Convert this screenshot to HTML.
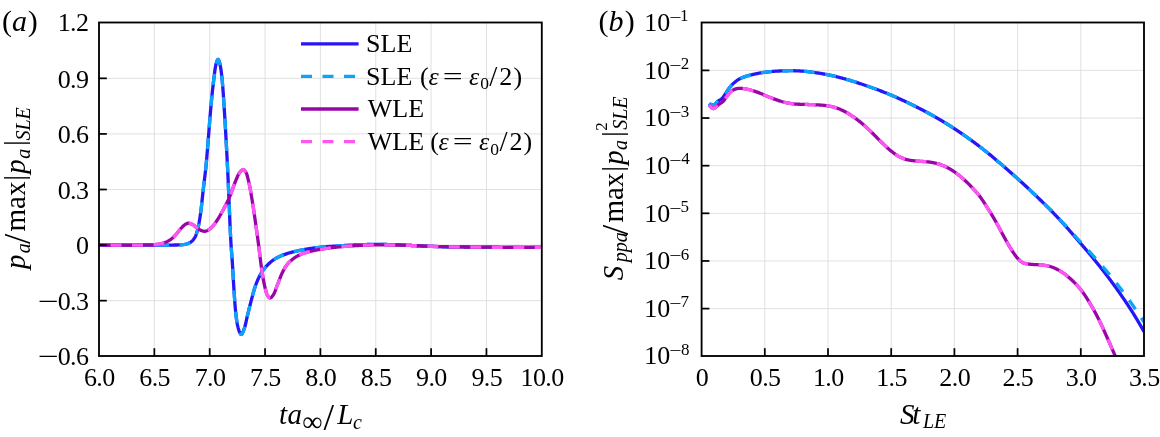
<!DOCTYPE html>
<html lang="en"><head><meta charset="utf-8"><title>Figure</title>
<style>html,body{margin:0;padding:0;background:#fff}svg{display:block;will-change:transform}</style>
</head><body>
<svg width="1160" height="437" viewBox="0 0 1160 437">
<defs><clipPath id="ca"><rect x="99.0" y="22.5" width="442.8" height="333.5"/></clipPath><clipPath id="cb"><rect x="701.6" y="22.5" width="442.4" height="333.5"/></clipPath></defs>
<rect width="1160" height="437" fill="#ffffff"/>
<g stroke="#dddddd" stroke-width="0.9"><line x1="154.35" y1="22.50" x2="154.35" y2="356.00"/><line x1="209.70" y1="22.50" x2="209.70" y2="356.00"/><line x1="265.05" y1="22.50" x2="265.05" y2="356.00"/><line x1="320.40" y1="22.50" x2="320.40" y2="356.00"/><line x1="375.75" y1="22.50" x2="375.75" y2="356.00"/><line x1="431.10" y1="22.50" x2="431.10" y2="356.00"/><line x1="486.45" y1="22.50" x2="486.45" y2="356.00"/><line x1="99.00" y1="300.67" x2="541.80" y2="300.67"/><line x1="99.00" y1="245.08" x2="541.80" y2="245.08"/><line x1="99.00" y1="189.50" x2="541.80" y2="189.50"/><line x1="99.00" y1="133.92" x2="541.80" y2="133.92"/><line x1="99.00" y1="78.33" x2="541.80" y2="78.33"/></g>
<path d="M99.00 245.10L99.75 245.10L100.50 245.10L101.25 245.10L102.00 245.10L102.75 245.10L103.50 245.10L104.25 245.10L105.00 245.10L105.75 245.10L106.50 245.10L107.25 245.10L108.00 245.10L108.75 245.10L109.50 245.10L110.25 245.10L111.00 245.10L111.75 245.10L112.50 245.10L113.25 245.10L114.00 245.10L114.75 245.10L115.50 245.10L116.25 245.10L117.00 245.10L117.75 245.10L118.50 245.10L119.25 245.10L120.00 245.10L120.75 245.10L121.50 245.10L122.25 245.10L123.00 245.10L123.75 245.10L124.50 245.10L125.25 245.10L126.00 245.10L126.75 245.10L127.50 245.10L128.25 245.10L129.00 245.10L129.75 245.10L130.50 245.10L131.25 245.10L132.00 245.10L132.75 245.10L133.50 245.10L134.25 245.10L135.00 245.10L135.75 245.10L136.50 245.10L137.25 245.10L138.00 245.10L138.75 245.10L139.50 245.10L140.25 245.10L141.00 245.10L141.75 245.10L142.50 245.10L143.25 245.10L144.00 245.10L144.75 245.10L145.50 245.10L146.25 245.10L147.00 245.10L147.75 245.10L148.50 245.10L149.25 245.10L150.00 245.10L150.75 245.10L151.50 245.10L152.25 245.10L153.00 245.10L153.75 245.10L154.50 245.10L155.25 245.10L156.00 245.10L156.75 245.10L157.50 245.10L158.25 245.10L159.00 245.10L159.75 245.10L160.50 245.10L161.25 245.10L162.00 245.10L162.75 245.10L163.50 245.10L164.25 245.09L165.00 245.09L165.75 245.09L166.50 245.08L167.25 245.08L168.00 245.07L168.75 245.07L169.50 245.06L170.25 245.06L171.00 245.05L171.75 245.05L172.50 245.04L173.25 245.03L174.00 245.02L174.75 245.02L175.50 245.01L176.25 245.00L177.00 244.98L177.75 244.96L178.51 244.93L179.26 244.89L180.01 244.84L180.77 244.79L181.52 244.74L182.26 244.67L183.00 244.60L183.74 244.53L184.47 244.44L185.22 244.31L185.96 244.13L186.70 243.93L187.43 243.69L188.15 243.43L188.84 243.15L189.50 242.85L190.13 242.51L190.76 242.10L191.37 241.62L191.94 241.10L192.49 240.56L192.99 240.02L193.46 239.45L193.91 238.86L194.35 238.23L194.76 237.58L195.14 236.91L195.48 236.24L195.77 235.57L196.03 234.89L196.28 234.20L196.51 233.51L196.74 232.81L196.95 232.10L197.16 231.39L197.36 230.66L197.56 229.94L197.74 229.21L197.92 228.47L198.09 227.73L198.25 226.99L198.41 226.24L198.57 225.50L198.72 224.75L198.86 224.00L199.00 223.25L199.13 222.50L199.27 221.75L199.40 221.01L199.52 220.27L199.65 219.53L199.77 218.79L199.89 218.05L200.00 217.32L200.11 216.58L200.22 215.84L200.33 215.10L200.44 214.36L200.54 213.62L200.64 212.87L200.74 212.13L200.83 211.39L200.93 210.64L201.02 209.90L201.11 209.16L201.20 208.41L201.29 207.67L201.37 206.92L201.46 206.17L201.54 205.43L201.63 204.68L201.71 203.94L201.79 203.19L201.87 202.44L201.95 201.69L202.03 200.95L202.11 200.20L202.18 199.45L202.26 198.70L202.34 197.96L202.42 197.21L202.50 196.46L202.58 195.72L202.66 194.97L202.74 194.22L202.82 193.47L202.90 192.73L202.98 191.98L203.07 191.24L203.15 190.49L203.24 189.74L203.32 189.00L203.41 188.25L203.50 187.51L203.59 186.77L203.68 186.02L203.77 185.28L203.86 184.53L203.95 183.79L204.04 183.04L204.13 182.30L204.22 181.55L204.31 180.81L204.40 180.06L204.49 179.32L204.58 178.57L204.67 177.83L204.76 177.08L204.85 176.34L204.94 175.59L205.02 174.85L205.11 174.10L205.20 173.36L205.28 172.61L205.37 171.87L205.45 171.12L205.53 170.38L205.62 169.63L205.70 168.89L205.78 168.14L205.86 167.40L205.93 166.65L206.01 165.90L206.09 165.16L206.16 164.41L206.23 163.67L206.30 162.92L206.37 162.17L206.44 161.43L206.51 160.68L206.58 159.93L206.64 159.19L206.71 158.44L206.77 157.69L206.84 156.94L206.90 156.20L206.96 155.45L207.02 154.70L207.08 153.95L207.15 153.21L207.21 152.46L207.27 151.71L207.33 150.96L207.38 150.22L207.44 149.47L207.50 148.72L207.56 147.97L207.62 147.23L207.68 146.48L207.74 145.73L207.80 144.98L207.86 144.23L207.92 143.49L207.98 142.74L208.04 141.99L208.10 141.24L208.16 140.50L208.22 139.75L208.28 139.00L208.34 138.25L208.40 137.51L208.46 136.76L208.52 136.01L208.58 135.26L208.64 134.52L208.70 133.77L208.76 133.02L208.82 132.27L208.88 131.52L208.93 130.78L208.99 130.03L209.05 129.28L209.11 128.53L209.17 127.79L209.23 127.04L209.28 126.29L209.34 125.54L209.40 124.79L209.46 124.05L209.52 123.30L209.58 122.55L209.64 121.80L209.69 121.06L209.75 120.31L209.81 119.56L209.87 118.81L209.93 118.06L210.00 117.32L210.06 116.57L210.12 115.82L210.18 115.08L210.24 114.33L210.31 113.58L210.37 112.83L210.44 112.09L210.50 111.34L210.57 110.59L210.63 109.85L210.70 109.10L210.77 108.35L210.84 107.60L210.91 106.86L210.97 106.11L211.04 105.36L211.11 104.62L211.18 103.87L211.25 103.12L211.32 102.38L211.39 101.63L211.46 100.88L211.54 100.14L211.61 99.39L211.68 98.64L211.75 97.90L211.83 97.15L211.90 96.40L211.98 95.66L212.05 94.91L212.13 94.16L212.20 93.42L212.28 92.67L212.36 91.92L212.43 91.18L212.51 90.43L212.59 89.69L212.67 88.94L212.76 88.19L212.84 87.45L212.92 86.70L213.01 85.96L213.09 85.21L213.18 84.47L213.26 83.72L213.35 82.98L213.44 82.23L213.53 81.49L213.62 80.75L213.71 80.00L213.80 79.26L213.90 78.52L213.99 77.77L214.08 77.02L214.17 76.27L214.26 75.52L214.35 74.77L214.44 74.02L214.53 73.27L214.63 72.52L214.72 71.76L214.82 71.01L214.92 70.27L215.03 69.52L215.15 68.78L215.27 68.03L215.39 67.30L215.53 66.56L215.67 65.84L215.82 65.11L215.98 64.39L216.15 63.68L216.36 62.92L216.62 62.03L216.93 61.13L217.27 60.32L217.61 59.71L217.93 59.41L218.24 59.53L218.58 60.01L218.92 60.75L219.25 61.62L219.54 62.53L219.76 63.36L219.94 64.07L220.10 64.79L220.25 65.51L220.40 66.24L220.54 66.97L220.66 67.71L220.79 68.44L220.90 69.19L221.01 69.93L221.12 70.68L221.22 71.43L221.31 72.18L221.40 72.94L221.49 73.69L221.58 74.44L221.66 75.20L221.74 75.95L221.82 76.70L221.89 77.45L221.97 78.20L222.04 78.94L222.12 79.69L222.19 80.43L222.26 81.18L222.33 81.92L222.40 82.67L222.47 83.41L222.53 84.16L222.60 84.91L222.66 85.65L222.72 86.40L222.78 87.15L222.84 87.90L222.90 88.64L222.95 89.39L223.01 90.14L223.07 90.89L223.12 91.64L223.17 92.39L223.23 93.13L223.28 93.88L223.33 94.63L223.38 95.38L223.43 96.13L223.48 96.88L223.53 97.63L223.58 98.38L223.63 99.13L223.67 99.87L223.72 100.62L223.77 101.37L223.82 102.12L223.87 102.87L223.92 103.62L223.96 104.37L224.01 105.12L224.06 105.87L224.11 106.61L224.16 107.36L224.21 108.11L224.26 108.86L224.31 109.61L224.35 110.36L224.40 111.10L224.45 111.85L224.50 112.60L224.55 113.35L224.59 114.10L224.64 114.85L224.69 115.60L224.73 116.34L224.78 117.09L224.82 117.84L224.87 118.59L224.92 119.34L224.96 120.09L225.01 120.84L225.05 121.58L225.09 122.33L225.14 123.08L225.18 123.83L225.23 124.58L225.27 125.33L225.31 126.08L225.36 126.83L225.40 127.57L225.44 128.32L225.49 129.07L225.53 129.82L225.57 130.57L225.61 131.32L225.66 132.07L225.70 132.82L225.74 133.56L225.78 134.31L225.83 135.06L225.87 135.81L225.91 136.56L225.95 137.31L225.99 138.06L226.03 138.81L226.08 139.56L226.12 140.30L226.16 141.05L226.20 141.80L226.24 142.55L226.28 143.30L226.32 144.05L226.36 144.80L226.40 145.55L226.44 146.30L226.49 147.04L226.53 147.79L226.57 148.54L226.61 149.29L226.65 150.04L226.69 150.79L226.73 151.54L226.76 152.29L226.80 153.04L226.84 153.78L226.88 154.53L226.92 155.28L226.96 156.03L227.00 156.78L227.04 157.53L227.08 158.28L227.11 159.03L227.15 159.78L227.19 160.53L227.23 161.28L227.27 162.02L227.30 162.77L227.34 163.52L227.38 164.27L227.42 165.02L227.45 165.77L227.49 166.52L227.53 167.27L227.56 168.02L227.60 168.77L227.63 169.52L227.67 170.26L227.71 171.01L227.74 171.76L227.78 172.51L227.81 173.26L227.85 174.01L227.88 174.76L227.92 175.51L227.95 176.26L227.98 177.01L228.02 177.76L228.05 178.51L228.09 179.25L228.12 180.00L228.15 180.75L228.19 181.50L228.22 182.25L228.26 183.00L228.29 183.75L228.32 184.50L228.35 185.25L228.39 186.00L228.42 186.75L228.45 187.50L228.49 188.25L228.52 188.99L228.55 189.74L228.58 190.49L228.62 191.24L228.65 191.99L228.68 192.74L228.72 193.49L228.75 194.24L228.78 194.99L228.81 195.74L228.85 196.49L228.88 197.24L228.91 197.99L228.94 198.74L228.98 199.49L229.01 200.23L229.04 200.98L229.08 201.73L229.11 202.48L229.14 203.23L229.17 203.98L229.20 204.73L229.23 205.48L229.26 206.23L229.29 206.98L229.33 207.73L229.36 208.48L229.39 209.23L229.42 209.98L229.45 210.73L229.48 211.47L229.51 212.22L229.54 212.97L229.57 213.72L229.60 214.47L229.63 215.22L229.66 215.97L229.69 216.72L229.72 217.47L229.75 218.22L229.78 218.97L229.81 219.72L229.84 220.47L229.87 221.22L229.90 221.97L229.94 222.72L229.97 223.47L230.00 224.21L230.03 224.96L230.06 225.71L230.10 226.46L230.13 227.21L230.16 227.96L230.20 228.71L230.23 229.46L230.27 230.21L230.30 230.96L230.34 231.71L230.37 232.46L230.41 233.20L230.45 233.95L230.48 234.70L230.52 235.45L230.56 236.20L230.60 236.95L230.64 237.70L230.68 238.45L230.73 239.20L230.77 239.95L230.81 240.69L230.86 241.44L230.90 242.19L230.94 242.94L230.99 243.69L231.04 244.44L231.08 245.19L231.13 245.93L231.18 246.68L231.23 247.43L231.28 248.18L231.33 248.93L231.38 249.68L231.44 250.42L231.49 251.17L231.55 251.92L231.61 252.67L231.66 253.42L231.72 254.16L231.78 254.91L231.84 255.66L231.89 256.41L231.95 257.15L232.01 257.90L232.06 258.65L232.12 259.40L232.17 260.15L232.22 260.89L232.28 261.64L232.33 262.39L232.38 263.14L232.42 263.89L232.47 264.64L232.52 265.38L232.56 266.13L232.61 266.88L232.66 267.63L232.70 268.38L232.74 269.13L232.79 269.88L232.83 270.63L232.88 271.37L232.92 272.12L232.96 272.87L233.00 273.62L233.05 274.37L233.09 275.12L233.13 275.87L233.17 276.62L233.22 277.36L233.26 278.11L233.30 278.86L233.34 279.61L233.39 280.36L233.43 281.11L233.47 281.86L233.52 282.61L233.56 283.35L233.61 284.10L233.65 284.85L233.70 285.60L233.75 286.35L233.79 287.10L233.84 287.85L233.89 288.59L233.94 289.34L233.99 290.09L234.04 290.84L234.09 291.59L234.14 292.34L234.19 293.08L234.24 293.83L234.29 294.58L234.34 295.33L234.39 296.08L234.44 296.83L234.49 297.58L234.55 298.33L234.60 299.08L234.65 299.83L234.70 300.58L234.75 301.32L234.81 302.07L234.86 302.82L234.92 303.57L234.98 304.32L235.04 305.07L235.10 305.81L235.16 306.56L235.22 307.31L235.28 308.06L235.35 308.80L235.42 309.55L235.49 310.30L235.56 311.04L235.63 311.79L235.71 312.53L235.79 313.27L235.87 314.02L235.95 314.76L236.04 315.51L236.13 316.26L236.22 317.01L236.31 317.76L236.41 318.51L236.51 319.26L236.62 320.01L236.73 320.76L236.85 321.51L236.98 322.26L237.11 323.00L237.24 323.74L237.39 324.48L237.54 325.21L237.69 325.94L237.86 326.66L238.03 327.37L238.22 328.08L238.41 328.81L238.66 329.63L238.95 330.51L239.27 331.41L239.61 332.28L239.97 333.07L240.33 333.73L240.70 334.21L241.05 334.47L241.38 334.46L241.74 334.19L242.10 333.70L242.47 333.04L242.84 332.26L243.20 331.40L243.55 330.51L243.87 329.63L244.15 328.82L244.40 328.11L244.63 327.40L244.85 326.70L245.05 325.98L245.24 325.26L245.43 324.53L245.60 323.80L245.77 323.07L245.94 322.33L246.10 321.60L246.26 320.86L246.42 320.12L246.58 319.38L246.74 318.64L246.91 317.91L247.08 317.17L247.26 316.45L247.44 315.72L247.62 314.99L247.80 314.26L247.98 313.53L248.15 312.80L248.33 312.07L248.51 311.34L248.69 310.62L248.86 309.89L249.04 309.16L249.22 308.43L249.40 307.70L249.58 306.97L249.76 306.25L249.94 305.52L250.13 304.79L250.31 304.06L250.50 303.34L250.69 302.61L250.88 301.89L251.07 301.16L251.26 300.44L251.45 299.71L251.64 298.98L251.83 298.25L252.02 297.53L252.21 296.80L252.41 296.07L252.60 295.34L252.79 294.62L252.99 293.89L253.19 293.17L253.39 292.44L253.60 291.72L253.81 291.00L254.02 290.28L254.24 289.56L254.46 288.85L254.68 288.13L254.91 287.42L255.15 286.72L255.39 286.01L255.63 285.31L255.89 284.60L256.15 283.90L256.41 283.20L256.69 282.50L256.97 281.80L257.26 281.10L257.56 280.40L257.86 279.71L258.17 279.02L258.49 278.34L258.81 277.66L259.14 276.99L259.48 276.32L259.82 275.66L260.18 275.00L260.54 274.36L260.91 273.71L261.29 273.07L261.69 272.43L262.10 271.80L262.52 271.16L262.95 270.54L263.39 269.92L263.84 269.31L264.30 268.71L264.76 268.12L265.24 267.54L265.72 266.97L266.21 266.41L266.70 265.87L267.21 265.33L267.73 264.79L268.26 264.25L268.81 263.72L269.36 263.20L269.93 262.68L270.50 262.17L271.08 261.68L271.67 261.20L272.27 260.74L272.87 260.29L273.48 259.86L274.09 259.44L274.71 259.05L275.34 258.68L275.98 258.31L276.62 257.96L277.28 257.61L277.95 257.27L278.62 256.94L279.31 256.61L280.00 256.30L280.69 255.99L281.39 255.69L282.10 255.40L282.80 255.12L283.51 254.85L284.22 254.58L284.94 254.33L285.65 254.08L286.35 253.85L287.06 253.62L287.77 253.39L288.48 253.18L289.20 252.96L289.92 252.76L290.64 252.55L291.36 252.36L292.09 252.16L292.82 251.97L293.55 251.79L294.28 251.61L295.01 251.44L295.75 251.27L296.48 251.10L297.22 250.94L297.95 250.78L298.69 250.62L299.42 250.47L300.16 250.32L300.89 250.18L301.63 250.04L302.36 249.90L303.10 249.76L303.84 249.62L304.58 249.49L305.31 249.36L306.05 249.23L306.79 249.10L307.53 248.98L308.27 248.85L309.02 248.73L309.76 248.62L310.50 248.50L311.24 248.39L311.99 248.28L312.73 248.17L313.47 248.07L314.22 247.97L314.96 247.88L315.70 247.78L316.45 247.69L317.19 247.60L317.94 247.52L318.68 247.44L319.43 247.36L320.17 247.28L320.92 247.20L321.66 247.13L322.41 247.06L323.16 246.99L323.90 246.92L324.65 246.86L325.40 246.79L326.15 246.73L326.90 246.67L327.64 246.61L328.39 246.55L329.14 246.50L329.89 246.44L330.64 246.39L331.39 246.34L332.13 246.29L332.88 246.23L333.63 246.18L334.38 246.13L335.13 246.09L335.88 246.04L336.62 245.99L337.37 245.94L338.12 245.89L338.87 245.84L339.62 245.80L340.37 245.75L341.11 245.70L341.86 245.66L342.61 245.61L343.36 245.57L344.11 245.53L344.86 245.48L345.61 245.44L346.36 245.40L347.10 245.36L347.85 245.31L348.60 245.27L349.35 245.23L350.10 245.19L350.85 245.16L351.60 245.12L352.35 245.08L353.10 245.04L353.85 245.01L354.60 244.97L355.35 244.94L356.10 244.91L356.85 244.87L357.59 244.84L358.34 244.81L359.09 244.78L359.84 244.75L360.59 244.72L361.34 244.70L362.09 244.67L362.84 244.65L363.59 244.62L364.34 244.60L365.09 244.58L365.84 244.56L366.59 244.54L367.34 244.52L368.09 244.50L368.84 244.49L369.59 244.47L370.34 244.46L371.09 244.45L371.84 244.44L372.59 244.43L373.34 244.42L374.09 244.41L374.84 244.41L375.59 244.40L376.34 244.40L377.09 244.40L377.84 244.40L378.59 244.40L379.34 244.40L380.09 244.41L380.84 244.42L381.59 244.42L382.34 244.43L383.09 244.44L383.84 244.45L384.59 244.46L385.34 244.48L386.09 244.49L386.84 244.51L387.59 244.53L388.34 244.54L389.09 244.56L389.84 244.58L390.59 244.60L391.34 244.63L392.09 244.65L392.83 244.67L393.58 244.70L394.33 244.72L395.08 244.75L395.83 244.78L396.58 244.81L397.33 244.84L398.08 244.87L398.83 244.90L399.58 244.93L400.33 244.96L401.08 244.99L401.83 245.03L402.58 245.06L403.33 245.10L404.08 245.13L404.83 245.17L405.58 245.20L406.33 245.24L407.08 245.28L407.83 245.32L408.58 245.35L409.32 245.39L410.07 245.43L410.82 245.47L411.57 245.51L412.32 245.55L413.07 245.58L413.82 245.62L414.57 245.66L415.32 245.70L416.07 245.74L416.81 245.78L417.56 245.82L418.31 245.85L419.06 245.89L419.81 245.93L420.56 245.97L421.31 246.00L422.06 246.04L422.81 246.07L423.56 246.11L424.30 246.14L425.05 246.18L425.80 246.21L426.55 246.24L427.30 246.27L428.05 246.30L428.80 246.34L429.55 246.36L430.30 246.39L431.05 246.42L431.80 246.45L432.55 246.47L433.30 246.50L434.05 246.52L434.80 246.54L435.55 246.56L436.30 246.59L437.05 246.61L437.80 246.63L438.55 246.64L439.29 246.66L440.04 246.68L440.79 246.70L441.54 246.71L442.29 246.73L443.04 246.74L443.79 246.75L444.54 246.77L445.29 246.78L446.04 246.79L446.79 246.80L447.54 246.82L448.29 246.83L449.04 246.84L449.79 246.85L450.54 246.86L451.29 246.87L452.04 246.87L452.79 246.88L453.54 246.89L454.29 246.90L455.04 246.91L455.79 246.91L456.54 246.92L457.29 246.93L458.04 246.93L458.79 246.94L459.54 246.94L460.29 246.95L461.04 246.96L461.79 246.96L462.54 246.97L463.29 246.97L464.04 246.98L464.79 246.99L465.54 246.99L466.29 247.00L467.04 247.00L467.79 247.01L468.54 247.01L469.29 247.02L470.04 247.03L470.79 247.03L471.54 247.04L472.29 247.05L473.04 247.05L473.79 247.06L474.54 247.06L475.29 247.07L476.04 247.08L476.79 247.08L477.54 247.09L478.29 247.10L479.04 247.10L479.79 247.11L480.54 247.12L481.29 247.12L482.04 247.13L482.79 247.14L483.54 247.14L484.29 247.15L485.04 247.16L485.79 247.16L486.54 247.17L487.29 247.18L488.04 247.18L488.79 247.19L489.54 247.20L490.29 247.20L491.04 247.21L491.79 247.22L492.54 247.22L493.29 247.23L494.04 247.23L494.79 247.24L495.54 247.25L496.29 247.25L497.04 247.26L497.79 247.26L498.54 247.27L499.29 247.27L500.04 247.28L500.79 247.29L501.54 247.29L502.29 247.30L503.04 247.30L503.79 247.31L504.54 247.31L505.29 247.32L506.04 247.32L506.79 247.32L507.54 247.33L508.29 247.33L509.04 247.34L509.79 247.34L510.54 247.34L511.29 247.35L512.04 247.35L512.79 247.35L513.54 247.36L514.29 247.36L515.04 247.36L515.79 247.36L516.54 247.37L517.29 247.37L518.04 247.37L518.79 247.37L519.54 247.37L520.29 247.37L521.04 247.38L521.79 247.38L522.54 247.38L523.29 247.38L524.04 247.38L524.79 247.38L525.54 247.38L526.29 247.38L527.04 247.37L527.79 247.37L528.54 247.37L529.29 247.37L530.04 247.37L530.79 247.37L531.54 247.36L532.29 247.36L533.04 247.36L533.79 247.35L534.54 247.35L535.29 247.35L536.04 247.34L536.79 247.34L537.54 247.33L538.29 247.33L539.04 247.32L539.79 247.32L540.54 247.31L541.29 247.30L541.80 247.30" fill="none" stroke="#2616f8" stroke-width="3.30" stroke-linejoin="round" clip-path="url(#ca)"/>
<path d="M99.00 245.10L99.75 245.10L100.50 245.10L101.25 245.10L102.00 245.10L102.75 245.10L103.50 245.10L104.25 245.10L105.00 245.10L105.75 245.10L106.50 245.10L107.25 245.10L108.00 245.10L108.75 245.10L109.50 245.10L110.25 245.10L111.00 245.10L111.75 245.10L112.50 245.10L113.25 245.10L114.00 245.10L114.75 245.10L115.50 245.10L116.25 245.10L117.00 245.10L117.75 245.10L118.50 245.10L119.25 245.10L120.00 245.10L120.75 245.10L121.50 245.10L122.25 245.10L123.00 245.10L123.75 245.10L124.50 245.10L125.25 245.10L126.00 245.10L126.75 245.10L127.50 245.10L128.25 245.10L129.00 245.10L129.75 245.10L130.50 245.10L131.25 245.10L132.00 245.10L132.75 245.10L133.50 245.10L134.25 245.10L135.00 245.10L135.75 245.10L136.50 245.10L137.25 245.10L138.00 245.10L138.75 245.10L139.50 245.10L140.25 245.10L141.00 245.10L141.75 245.10L142.50 245.10L143.25 245.10L144.00 245.10L144.75 245.10L145.50 245.10L146.25 245.10L147.00 245.10L147.75 245.10L148.50 245.10L149.25 245.10L150.00 245.10L150.75 245.10L151.50 245.10L152.25 245.10L153.00 245.10L153.75 245.10L154.50 245.10L155.25 245.10L156.00 245.10L156.75 245.10L157.50 245.10L158.25 245.10L159.00 245.10L159.75 245.10L160.50 245.10L161.25 245.10L162.00 245.10L162.75 245.10L163.50 245.10L164.25 245.09L165.00 245.09L165.75 245.09L166.50 245.08L167.25 245.08L168.00 245.07L168.75 245.07L169.50 245.06L170.25 245.06L171.00 245.05L171.75 245.05L172.50 245.04L173.25 245.03L174.00 245.02L174.75 245.02L175.50 245.01L176.25 245.00L177.00 244.98L177.75 244.96L178.51 244.93L179.26 244.89L180.01 244.84L180.77 244.79L181.52 244.74L182.26 244.67L183.00 244.60L183.74 244.53L184.47 244.44L185.22 244.31L185.96 244.13L186.70 243.93L187.43 243.69L188.15 243.43L188.84 243.15L189.50 242.85L190.13 242.51L190.76 242.10L191.37 241.62L191.94 241.10L192.49 240.56L192.99 240.02L193.46 239.45L193.91 238.86L194.35 238.23L194.76 237.58L195.14 236.91L195.48 236.24L195.77 235.57L196.03 234.89L196.28 234.20L196.51 233.51L196.74 232.81L196.95 232.10L197.16 231.39L197.36 230.66L197.56 229.94L197.74 229.21L197.92 228.47L198.09 227.73L198.25 226.99L198.41 226.24L198.57 225.50L198.72 224.75L198.86 224.00L199.00 223.25L199.13 222.50L199.27 221.75L199.40 221.01L199.52 220.27L199.65 219.53L199.77 218.79L199.89 218.05L200.00 217.32L200.11 216.58L200.22 215.84L200.33 215.10L200.44 214.36L200.54 213.62L200.64 212.87L200.74 212.13L200.83 211.39L200.93 210.64L201.02 209.90L201.11 209.16L201.20 208.41L201.29 207.67L201.37 206.92L201.46 206.17L201.54 205.43L201.63 204.68L201.71 203.94L201.79 203.19L201.87 202.44L201.95 201.69L202.03 200.95L202.11 200.20L202.18 199.45L202.26 198.70L202.34 197.96L202.42 197.21L202.50 196.46L202.58 195.72L202.66 194.97L202.74 194.22L202.82 193.47L202.90 192.73L202.98 191.98L203.07 191.24L203.15 190.49L203.24 189.74L203.32 189.00L203.41 188.25L203.50 187.51L203.59 186.77L203.68 186.02L203.77 185.28L203.86 184.53L203.95 183.79L204.04 183.04L204.13 182.30L204.22 181.55L204.31 180.81L204.40 180.06L204.49 179.32L204.58 178.57L204.67 177.83L204.76 177.08L204.85 176.34L204.94 175.59L205.02 174.85L205.11 174.10L205.20 173.36L205.28 172.61L205.37 171.87L205.45 171.12L205.53 170.38L205.62 169.63L205.70 168.89L205.78 168.14L205.86 167.40L205.93 166.65L206.01 165.90L206.09 165.16L206.16 164.41L206.23 163.67L206.30 162.92L206.37 162.17L206.44 161.43L206.51 160.68L206.58 159.93L206.64 159.19L206.71 158.44L206.77 157.69L206.84 156.94L206.90 156.20L206.96 155.45L207.02 154.70L207.08 153.95L207.15 153.21L207.21 152.46L207.27 151.71L207.33 150.96L207.38 150.22L207.44 149.47L207.50 148.72L207.56 147.97L207.62 147.23L207.68 146.48L207.74 145.73L207.80 144.98L207.86 144.23L207.92 143.49L207.98 142.74L208.04 141.99L208.10 141.24L208.16 140.50L208.22 139.75L208.28 139.00L208.34 138.25L208.40 137.51L208.46 136.76L208.52 136.01L208.58 135.26L208.64 134.52L208.70 133.77L208.76 133.02L208.82 132.27L208.88 131.52L208.93 130.78L208.99 130.03L209.05 129.28L209.11 128.53L209.17 127.79L209.23 127.04L209.28 126.29L209.34 125.54L209.40 124.79L209.46 124.05L209.52 123.30L209.58 122.55L209.64 121.80L209.69 121.06L209.75 120.31L209.81 119.56L209.87 118.81L209.93 118.06L210.00 117.32L210.06 116.57L210.12 115.82L210.18 115.08L210.24 114.33L210.31 113.58L210.37 112.83L210.44 112.09L210.50 111.34L210.57 110.59L210.63 109.85L210.70 109.10L210.77 108.35L210.84 107.60L210.91 106.86L210.97 106.11L211.04 105.36L211.11 104.62L211.18 103.87L211.25 103.12L211.32 102.38L211.39 101.63L211.46 100.88L211.54 100.14L211.61 99.39L211.68 98.64L211.75 97.90L211.83 97.15L211.90 96.40L211.98 95.66L212.05 94.91L212.13 94.16L212.20 93.42L212.28 92.67L212.36 91.92L212.43 91.18L212.51 90.43L212.59 89.69L212.67 88.94L212.76 88.19L212.84 87.45L212.92 86.70L213.01 85.96L213.09 85.21L213.18 84.47L213.26 83.72L213.35 82.98L213.44 82.23L213.53 81.49L213.62 80.75L213.71 80.00L213.80 79.26L213.90 78.52L213.99 77.77L214.08 77.02L214.17 76.27L214.26 75.52L214.35 74.77L214.44 74.02L214.53 73.27L214.63 72.52L214.72 71.76L214.82 71.01L214.92 70.27L215.03 69.52L215.15 68.78L215.27 68.03L215.39 67.30L215.53 66.56L215.67 65.84L215.82 65.11L215.98 64.39L216.15 63.68L216.36 62.92L216.62 62.03L216.93 61.13L217.27 60.32L217.61 59.71L217.93 59.41L218.24 59.53L218.58 60.01L218.92 60.75L219.25 61.62L219.54 62.53L219.76 63.36L219.94 64.07L220.10 64.79L220.25 65.51L220.40 66.24L220.54 66.97L220.66 67.71L220.79 68.44L220.90 69.19L221.01 69.93L221.12 70.68L221.22 71.43L221.31 72.18L221.40 72.94L221.49 73.69L221.58 74.44L221.66 75.20L221.74 75.95L221.82 76.70L221.89 77.45L221.97 78.20L222.04 78.94L222.12 79.69L222.19 80.43L222.26 81.18L222.33 81.92L222.40 82.67L222.47 83.41L222.53 84.16L222.60 84.91L222.66 85.65L222.72 86.40L222.78 87.15L222.84 87.90L222.90 88.64L222.95 89.39L223.01 90.14L223.07 90.89L223.12 91.64L223.17 92.39L223.23 93.13L223.28 93.88L223.33 94.63L223.38 95.38L223.43 96.13L223.48 96.88L223.53 97.63L223.58 98.38L223.63 99.13L223.67 99.87L223.72 100.62L223.77 101.37L223.82 102.12L223.87 102.87L223.92 103.62L223.96 104.37L224.01 105.12L224.06 105.87L224.11 106.61L224.16 107.36L224.21 108.11L224.26 108.86L224.31 109.61L224.35 110.36L224.40 111.10L224.45 111.85L224.50 112.60L224.55 113.35L224.59 114.10L224.64 114.85L224.69 115.60L224.73 116.34L224.78 117.09L224.82 117.84L224.87 118.59L224.92 119.34L224.96 120.09L225.01 120.84L225.05 121.58L225.09 122.33L225.14 123.08L225.18 123.83L225.23 124.58L225.27 125.33L225.31 126.08L225.36 126.83L225.40 127.57L225.44 128.32L225.49 129.07L225.53 129.82L225.57 130.57L225.61 131.32L225.66 132.07L225.70 132.82L225.74 133.56L225.78 134.31L225.83 135.06L225.87 135.81L225.91 136.56L225.95 137.31L225.99 138.06L226.03 138.81L226.08 139.56L226.12 140.30L226.16 141.05L226.20 141.80L226.24 142.55L226.28 143.30L226.32 144.05L226.36 144.80L226.40 145.55L226.44 146.30L226.49 147.04L226.53 147.79L226.57 148.54L226.61 149.29L226.65 150.04L226.69 150.79L226.73 151.54L226.76 152.29L226.80 153.04L226.84 153.78L226.88 154.53L226.92 155.28L226.96 156.03L227.00 156.78L227.04 157.53L227.08 158.28L227.11 159.03L227.15 159.78L227.19 160.53L227.23 161.28L227.27 162.02L227.30 162.77L227.34 163.52L227.38 164.27L227.42 165.02L227.45 165.77L227.49 166.52L227.53 167.27L227.56 168.02L227.60 168.77L227.63 169.52L227.67 170.26L227.71 171.01L227.74 171.76L227.78 172.51L227.81 173.26L227.85 174.01L227.88 174.76L227.92 175.51L227.95 176.26L227.98 177.01L228.02 177.76L228.05 178.51L228.09 179.25L228.12 180.00L228.15 180.75L228.19 181.50L228.22 182.25L228.26 183.00L228.29 183.75L228.32 184.50L228.35 185.25L228.39 186.00L228.42 186.75L228.45 187.50L228.49 188.25L228.52 188.99L228.55 189.74L228.58 190.49L228.62 191.24L228.65 191.99L228.68 192.74L228.72 193.49L228.75 194.24L228.78 194.99L228.81 195.74L228.85 196.49L228.88 197.24L228.91 197.99L228.94 198.74L228.98 199.49L229.01 200.23L229.04 200.98L229.08 201.73L229.11 202.48L229.14 203.23L229.17 203.98L229.20 204.73L229.23 205.48L229.26 206.23L229.29 206.98L229.33 207.73L229.36 208.48L229.39 209.23L229.42 209.98L229.45 210.73L229.48 211.47L229.51 212.22L229.54 212.97L229.57 213.72L229.60 214.47L229.63 215.22L229.66 215.97L229.69 216.72L229.72 217.47L229.75 218.22L229.78 218.97L229.81 219.72L229.84 220.47L229.87 221.22L229.90 221.97L229.94 222.72L229.97 223.47L230.00 224.21L230.03 224.96L230.06 225.71L230.10 226.46L230.13 227.21L230.16 227.96L230.20 228.71L230.23 229.46L230.27 230.21L230.30 230.96L230.34 231.71L230.37 232.46L230.41 233.20L230.45 233.95L230.48 234.70L230.52 235.45L230.56 236.20L230.60 236.95L230.64 237.70L230.68 238.45L230.73 239.20L230.77 239.95L230.81 240.69L230.86 241.44L230.90 242.19L230.94 242.94L230.99 243.69L231.04 244.44L231.08 245.19L231.13 245.93L231.18 246.68L231.23 247.43L231.28 248.18L231.33 248.93L231.38 249.68L231.44 250.42L231.49 251.17L231.55 251.92L231.61 252.67L231.66 253.42L231.72 254.16L231.78 254.91L231.84 255.66L231.89 256.41L231.95 257.15L232.01 257.90L232.06 258.65L232.12 259.40L232.17 260.15L232.22 260.89L232.28 261.64L232.33 262.39L232.38 263.14L232.42 263.89L232.47 264.64L232.52 265.38L232.56 266.13L232.61 266.88L232.66 267.63L232.70 268.38L232.74 269.13L232.79 269.88L232.83 270.63L232.88 271.37L232.92 272.12L232.96 272.87L233.00 273.62L233.05 274.37L233.09 275.12L233.13 275.87L233.17 276.62L233.22 277.36L233.26 278.11L233.30 278.86L233.34 279.61L233.39 280.36L233.43 281.11L233.47 281.86L233.52 282.61L233.56 283.35L233.61 284.10L233.65 284.85L233.70 285.60L233.75 286.35L233.79 287.10L233.84 287.85L233.89 288.59L233.94 289.34L233.99 290.09L234.04 290.84L234.09 291.59L234.14 292.34L234.19 293.08L234.24 293.83L234.29 294.58L234.34 295.33L234.39 296.08L234.44 296.83L234.49 297.58L234.55 298.33L234.60 299.08L234.65 299.83L234.70 300.58L234.75 301.32L234.81 302.07L234.86 302.82L234.92 303.57L234.98 304.32L235.04 305.07L235.10 305.81L235.16 306.56L235.22 307.31L235.28 308.06L235.35 308.80L235.42 309.55L235.49 310.30L235.56 311.04L235.63 311.79L235.71 312.53L235.79 313.27L235.87 314.02L235.95 314.76L236.04 315.51L236.13 316.26L236.22 317.01L236.31 317.76L236.41 318.51L236.51 319.26L236.62 320.01L236.73 320.76L236.85 321.51L236.98 322.26L237.11 323.00L237.24 323.74L237.39 324.48L237.54 325.21L237.69 325.94L237.86 326.66L238.03 327.37L238.22 328.08L238.41 328.81L238.66 329.63L238.95 330.51L239.27 331.41L239.61 332.28L239.97 333.07L240.33 333.73L240.70 334.21L241.05 334.47L241.38 334.46L241.74 334.19L242.10 333.70L242.47 333.04L242.84 332.26L243.20 331.40L243.55 330.51L243.87 329.63L244.15 328.82L244.40 328.11L244.63 327.40L244.85 326.70L245.05 325.98L245.24 325.26L245.43 324.53L245.60 323.80L245.77 323.07L245.94 322.33L246.10 321.60L246.26 320.86L246.42 320.12L246.58 319.38L246.74 318.64L246.91 317.91L247.08 317.17L247.26 316.45L247.44 315.72L247.62 314.99L247.80 314.26L247.98 313.53L248.15 312.80L248.33 312.07L248.51 311.34L248.69 310.62L248.86 309.89L249.04 309.16L249.22 308.43L249.40 307.70L249.58 306.97L249.76 306.25L249.94 305.52L250.13 304.79L250.31 304.06L250.50 303.34L250.69 302.61L250.88 301.89L251.07 301.16L251.26 300.44L251.45 299.71L251.64 298.98L251.83 298.25L252.02 297.53L252.21 296.80L252.41 296.07L252.60 295.34L252.79 294.62L252.99 293.89L253.19 293.17L253.39 292.44L253.60 291.72L253.81 291.00L254.02 290.28L254.24 289.56L254.46 288.85L254.68 288.13L254.91 287.42L255.15 286.72L255.39 286.01L255.63 285.31L255.89 284.60L256.15 283.90L256.41 283.20L256.69 282.50L256.97 281.80L257.26 281.10L257.56 280.40L257.86 279.71L258.17 279.02L258.49 278.34L258.81 277.66L259.14 276.99L259.48 276.32L259.82 275.66L260.18 275.00L260.54 274.36L260.91 273.71L261.29 273.07L261.69 272.43L262.10 271.80L262.52 271.16L262.95 270.54L263.39 269.92L263.84 269.31L264.30 268.71L264.76 268.12L265.24 267.54L265.72 266.97L266.21 266.41L266.70 265.87L267.21 265.33L267.73 264.79L268.26 264.25L268.81 263.72L269.36 263.20L269.93 262.68L270.50 262.17L271.08 261.68L271.67 261.20L272.27 260.74L272.87 260.29L273.48 259.86L274.09 259.44L274.71 259.05L275.34 258.68L275.98 258.31L276.62 257.96L277.28 257.61L277.95 257.27L278.62 256.94L279.31 256.61L280.00 256.30L280.69 255.99L281.39 255.69L282.10 255.40L282.80 255.12L283.51 254.85L284.22 254.58L284.94 254.33L285.65 254.08L286.35 253.85L287.06 253.62L287.77 253.39L288.48 253.18L289.20 252.96L289.92 252.76L290.64 252.55L291.36 252.36L292.09 252.16L292.82 251.97L293.55 251.79L294.28 251.61L295.01 251.44L295.75 251.27L296.48 251.10L297.22 250.94L297.95 250.78L298.69 250.62L299.42 250.47L300.16 250.32L300.89 250.18L301.63 250.04L302.36 249.90L303.10 249.76L303.84 249.62L304.58 249.49L305.31 249.36L306.05 249.23L306.79 249.10L307.53 248.98L308.27 248.85L309.02 248.73L309.76 248.62L310.50 248.50L311.24 248.39L311.99 248.28L312.73 248.17L313.47 248.07L314.22 247.97L314.96 247.88L315.70 247.78L316.45 247.69L317.19 247.60L317.94 247.52L318.68 247.44L319.43 247.36L320.17 247.28L320.92 247.20L321.66 247.13L322.41 247.06L323.16 246.99L323.90 246.92L324.65 246.86L325.40 246.79L326.15 246.73L326.90 246.67L327.64 246.61L328.39 246.55L329.14 246.50L329.89 246.44L330.64 246.39L331.39 246.34L332.13 246.29L332.88 246.23L333.63 246.18L334.38 246.13L335.13 246.09L335.88 246.04L336.62 245.99L337.37 245.94L338.12 245.89L338.87 245.84L339.62 245.80L340.37 245.75L341.11 245.70L341.86 245.66L342.61 245.61L343.36 245.57L344.11 245.53L344.86 245.48L345.61 245.44L346.36 245.40L347.10 245.36L347.85 245.31L348.60 245.27L349.35 245.23L350.10 245.19L350.85 245.16L351.60 245.12L352.35 245.08L353.10 245.04L353.85 245.01L354.60 244.97L355.35 244.94L356.10 244.91L356.85 244.87L357.59 244.84L358.34 244.81L359.09 244.78L359.84 244.75L360.59 244.72L361.34 244.70L362.09 244.67L362.84 244.65L363.59 244.62L364.34 244.60L365.09 244.58L365.84 244.56L366.59 244.54L367.34 244.52L368.09 244.50L368.84 244.49L369.59 244.47L370.34 244.46L371.09 244.45L371.84 244.44L372.59 244.43L373.34 244.42L374.09 244.41L374.84 244.41L375.59 244.40L376.34 244.40L377.09 244.40L377.84 244.40L378.59 244.40L379.34 244.40L380.09 244.41L380.84 244.42L381.59 244.42L382.34 244.43L383.09 244.44L383.84 244.45L384.59 244.46L385.34 244.48L386.09 244.49L386.84 244.51L387.59 244.53L388.34 244.54L389.09 244.56L389.84 244.58L390.59 244.60L391.34 244.63L392.09 244.65L392.83 244.67L393.58 244.70L394.33 244.72L395.08 244.75L395.83 244.78L396.58 244.81L397.33 244.84L398.08 244.87L398.83 244.90L399.58 244.93L400.33 244.96L401.08 244.99L401.83 245.03L402.58 245.06L403.33 245.10L404.08 245.13L404.83 245.17L405.58 245.20L406.33 245.24L407.08 245.28L407.83 245.32L408.58 245.35L409.32 245.39L410.07 245.43L410.82 245.47L411.57 245.51L412.32 245.55L413.07 245.58L413.82 245.62L414.57 245.66L415.32 245.70L416.07 245.74L416.81 245.78L417.56 245.82L418.31 245.85L419.06 245.89L419.81 245.93L420.56 245.97L421.31 246.00L422.06 246.04L422.81 246.07L423.56 246.11L424.30 246.14L425.05 246.18L425.80 246.21L426.55 246.24L427.30 246.27L428.05 246.30L428.80 246.34L429.55 246.36L430.30 246.39L431.05 246.42L431.80 246.45L432.55 246.47L433.30 246.50L434.05 246.52L434.80 246.54L435.55 246.56L436.30 246.59L437.05 246.61L437.80 246.63L438.55 246.64L439.29 246.66L440.04 246.68L440.79 246.70L441.54 246.71L442.29 246.73L443.04 246.74L443.79 246.75L444.54 246.77L445.29 246.78L446.04 246.79L446.79 246.80L447.54 246.82L448.29 246.83L449.04 246.84L449.79 246.85L450.54 246.86L451.29 246.87L452.04 246.87L452.79 246.88L453.54 246.89L454.29 246.90L455.04 246.91L455.79 246.91L456.54 246.92L457.29 246.93L458.04 246.93L458.79 246.94L459.54 246.94L460.29 246.95L461.04 246.96L461.79 246.96L462.54 246.97L463.29 246.97L464.04 246.98L464.79 246.99L465.54 246.99L466.29 247.00L467.04 247.00L467.79 247.01L468.54 247.01L469.29 247.02L470.04 247.03L470.79 247.03L471.54 247.04L472.29 247.05L473.04 247.05L473.79 247.06L474.54 247.06L475.29 247.07L476.04 247.08L476.79 247.08L477.54 247.09L478.29 247.10L479.04 247.10L479.79 247.11L480.54 247.12L481.29 247.12L482.04 247.13L482.79 247.14L483.54 247.14L484.29 247.15L485.04 247.16L485.79 247.16L486.54 247.17L487.29 247.18L488.04 247.18L488.79 247.19L489.54 247.20L490.29 247.20L491.04 247.21L491.79 247.22L492.54 247.22L493.29 247.23L494.04 247.23L494.79 247.24L495.54 247.25L496.29 247.25L497.04 247.26L497.79 247.26L498.54 247.27L499.29 247.27L500.04 247.28L500.79 247.29L501.54 247.29L502.29 247.30L503.04 247.30L503.79 247.31L504.54 247.31L505.29 247.32L506.04 247.32L506.79 247.32L507.54 247.33L508.29 247.33L509.04 247.34L509.79 247.34L510.54 247.34L511.29 247.35L512.04 247.35L512.79 247.35L513.54 247.36L514.29 247.36L515.04 247.36L515.79 247.36L516.54 247.37L517.29 247.37L518.04 247.37L518.79 247.37L519.54 247.37L520.29 247.37L521.04 247.38L521.79 247.38L522.54 247.38L523.29 247.38L524.04 247.38L524.79 247.38L525.54 247.38L526.29 247.38L527.04 247.37L527.79 247.37L528.54 247.37L529.29 247.37L530.04 247.37L530.79 247.37L531.54 247.36L532.29 247.36L533.04 247.36L533.79 247.35L534.54 247.35L535.29 247.35L536.04 247.34L536.79 247.34L537.54 247.33L538.29 247.33L539.04 247.32L539.79 247.32L540.54 247.31L541.29 247.30L541.80 247.30" fill="none" stroke="#0aa5fa" stroke-width="3.30" stroke-linejoin="round" stroke-dasharray="11 10.5" stroke-dashoffset="5.5" clip-path="url(#ca)"/>
<path d="M99.00 245.10L99.75 245.10L100.50 245.10L101.25 245.10L102.00 245.10L102.75 245.10L103.50 245.10L104.25 245.10L105.00 245.10L105.75 245.10L106.50 245.10L107.25 245.10L108.00 245.10L108.75 245.10L109.50 245.10L110.25 245.10L111.00 245.10L111.75 245.10L112.50 245.10L113.25 245.10L114.00 245.10L114.75 245.10L115.50 245.10L116.25 245.10L117.00 245.10L117.75 245.10L118.50 245.10L119.25 245.10L120.00 245.10L120.75 245.10L121.50 245.10L122.25 245.10L123.00 245.10L123.75 245.10L124.50 245.10L125.25 245.10L126.00 245.10L126.75 245.10L127.50 245.10L128.25 245.10L129.00 245.10L129.75 245.10L130.50 245.10L131.25 245.10L132.00 245.10L132.75 245.10L133.50 245.09L134.25 245.09L135.00 245.09L135.75 245.08L136.50 245.08L137.25 245.07L138.00 245.07L138.75 245.06L139.50 245.06L140.26 245.05L141.01 245.04L141.76 245.03L142.51 245.02L143.26 245.01L144.01 245.00L144.76 244.99L145.51 244.98L146.25 244.97L147.00 244.96L147.75 244.94L148.50 244.93L149.25 244.91L150.00 244.90L150.75 244.88L151.50 244.85L152.25 244.80L153.00 244.75L153.75 244.68L154.50 244.61L155.24 244.53L155.99 244.45L156.73 244.36L157.48 244.27L158.22 244.17L158.96 244.06L159.70 243.93L160.44 243.78L161.18 243.61L161.91 243.43L162.64 243.23L163.36 243.02L164.07 242.81L164.77 242.58L165.46 242.31L166.16 242.02L166.84 241.70L167.52 241.35L168.19 240.99L168.84 240.61L169.49 240.22L170.11 239.83L170.72 239.41L171.32 238.96L171.91 238.49L172.49 238.00L173.05 237.49L173.60 236.98L174.14 236.46L174.66 235.94L175.17 235.39L175.67 234.83L176.16 234.26L176.64 233.69L177.11 233.10L177.58 232.51L178.05 231.92L178.52 231.33L178.99 230.74L179.47 230.16L179.95 229.58L180.44 229.02L180.95 228.46L181.47 227.92L181.98 227.36L182.50 226.79L183.03 226.23L183.57 225.70L184.13 225.21L184.72 224.78L185.34 224.40L186.00 224.01L186.70 223.65L187.42 223.37L188.14 223.21L188.85 223.23L189.59 223.36L190.33 223.57L191.06 223.83L191.76 224.10L192.42 224.39L193.06 224.75L193.67 225.18L194.26 225.65L194.85 226.14L195.44 226.64L196.03 227.13L196.63 227.58L197.25 228.02L197.86 228.47L198.48 228.93L199.10 229.38L199.73 229.79L200.38 230.14L201.05 230.42L201.75 230.66L202.48 230.89L203.23 231.09L203.97 231.24L204.70 231.30L205.42 231.24L206.14 231.03L206.85 230.72L207.54 230.35L208.21 229.97L208.84 229.60L209.45 229.19L210.05 228.73L210.63 228.23L211.19 227.71L211.74 227.18L212.26 226.64L212.77 226.11L213.26 225.55L213.75 224.98L214.22 224.40L214.68 223.80L215.13 223.19L215.57 222.58L216.01 221.96L216.43 221.34L216.85 220.72L217.27 220.10L217.68 219.47L218.08 218.84L218.47 218.20L218.86 217.56L219.24 216.91L219.62 216.26L219.99 215.61L220.36 214.96L220.73 214.30L221.10 213.64L221.46 212.99L221.82 212.33L222.18 211.67L222.54 211.01L222.90 210.36L223.26 209.70L223.62 209.04L223.97 208.38L224.33 207.71L224.68 207.05L225.03 206.39L225.38 205.72L225.73 205.05L226.07 204.38L226.41 203.71L226.75 203.04L227.08 202.37L227.41 201.70L227.74 201.02L228.06 200.34L228.37 199.66L228.69 198.98L228.99 198.30L229.29 197.62L229.59 196.93L229.87 196.24L230.15 195.55L230.43 194.85L230.70 194.15L230.97 193.45L231.23 192.75L231.49 192.04L231.75 191.34L232.01 190.63L232.28 189.93L232.54 189.22L232.80 188.52L233.07 187.82L233.33 187.12L233.59 186.41L233.85 185.71L234.11 185.00L234.36 184.29L234.62 183.59L234.87 182.88L235.14 182.18L235.40 181.48L235.67 180.78L235.95 180.08L236.24 179.39L236.54 178.71L236.84 178.02L237.14 177.31L237.44 176.59L237.75 175.88L238.07 175.18L238.41 174.49L238.76 173.82L239.14 173.19L239.54 172.59L239.97 172.03L240.47 171.47L241.06 170.87L241.70 170.31L242.35 169.87L242.97 169.62L243.54 169.66L244.13 170.02L244.71 170.59L245.25 171.28L245.71 171.99L246.07 172.64L246.37 173.27L246.65 173.93L246.90 174.62L247.14 175.34L247.35 176.07L247.55 176.81L247.74 177.56L247.92 178.32L248.10 179.07L248.27 179.82L248.44 180.56L248.62 181.29L248.78 182.01L248.95 182.74L249.11 183.47L249.27 184.21L249.42 184.94L249.57 185.67L249.72 186.41L249.86 187.14L250.00 187.88L250.14 188.62L250.28 189.36L250.41 190.10L250.55 190.84L250.68 191.57L250.81 192.32L250.94 193.06L251.06 193.80L251.19 194.54L251.31 195.28L251.44 196.02L251.56 196.76L251.68 197.50L251.81 198.24L251.93 198.98L252.05 199.72L252.18 200.46L252.30 201.20L252.42 201.94L252.54 202.68L252.66 203.42L252.78 204.16L252.89 204.90L253.01 205.64L253.13 206.38L253.24 207.12L253.35 207.87L253.47 208.61L253.58 209.35L253.69 210.09L253.80 210.83L253.91 211.58L254.02 212.32L254.13 213.06L254.23 213.80L254.34 214.54L254.45 215.29L254.56 216.03L254.66 216.77L254.77 217.51L254.88 218.26L254.98 219.00L255.09 219.74L255.20 220.48L255.30 221.23L255.41 221.97L255.52 222.71L255.62 223.45L255.73 224.20L255.83 224.94L255.94 225.68L256.05 226.42L256.15 227.17L256.26 227.91L256.36 228.65L256.47 229.39L256.57 230.14L256.68 230.88L256.78 231.62L256.88 232.37L256.99 233.11L257.09 233.85L257.19 234.59L257.29 235.34L257.40 236.08L257.50 236.82L257.60 237.57L257.70 238.31L257.80 239.05L257.90 239.80L258.00 240.54L258.10 241.28L258.20 242.03L258.30 242.77L258.40 243.51L258.50 244.26L258.60 245.00L258.70 245.74L258.79 246.49L258.89 247.23L258.98 247.98L259.08 248.72L259.17 249.46L259.26 250.21L259.35 250.95L259.44 251.70L259.53 252.44L259.62 253.19L259.71 253.93L259.80 254.68L259.89 255.42L259.97 256.17L260.06 256.91L260.15 257.66L260.24 258.40L260.34 259.15L260.43 259.89L260.52 260.64L260.61 261.38L260.71 262.12L260.80 262.87L260.90 263.61L261.00 264.35L261.10 265.10L261.20 265.84L261.31 266.58L261.41 267.32L261.52 268.07L261.63 268.81L261.74 269.55L261.85 270.29L261.96 271.03L262.08 271.78L262.19 272.52L262.31 273.26L262.42 274.00L262.54 274.75L262.66 275.49L262.78 276.23L262.90 276.97L263.03 277.71L263.16 278.46L263.29 279.20L263.42 279.93L263.56 280.67L263.70 281.41L263.84 282.15L263.99 282.88L264.14 283.61L264.29 284.34L264.45 285.07L264.62 285.80L264.78 286.53L264.95 287.26L265.13 288.00L265.30 288.75L265.49 289.50L265.68 290.26L265.88 291.00L266.09 291.74L266.32 292.47L266.57 293.18L266.83 293.87L267.12 294.53L267.42 295.17L267.77 295.80L268.23 296.51L268.77 297.20L269.34 297.74L269.91 297.99L270.48 297.88L271.09 297.50L271.71 296.93L272.29 296.28L272.79 295.65L273.19 295.08L273.57 294.48L273.91 293.85L274.24 293.20L274.55 292.52L274.84 291.83L275.12 291.12L275.38 290.39L275.65 289.67L275.90 288.93L276.16 288.20L276.42 287.47L276.68 286.74L276.95 286.03L277.23 285.33L277.51 284.64L277.79 283.94L278.06 283.24L278.33 282.53L278.60 281.83L278.86 281.13L279.12 280.42L279.39 279.72L279.65 279.01L279.92 278.31L280.20 277.61L280.47 276.92L280.75 276.22L281.04 275.53L281.34 274.85L281.64 274.16L281.96 273.49L282.28 272.82L282.61 272.14L282.94 271.46L283.29 270.78L283.64 270.11L283.99 269.44L284.36 268.78L284.74 268.12L285.13 267.47L285.52 266.84L285.93 266.22L286.35 265.61L286.79 265.02L287.24 264.44L287.71 263.87L288.20 263.30L288.72 262.74L289.24 262.19L289.79 261.65L290.34 261.13L290.91 260.62L291.48 260.13L292.06 259.65L292.64 259.19L293.23 258.76L293.83 258.32L294.45 257.90L295.07 257.48L295.71 257.07L296.36 256.68L297.02 256.29L297.68 255.92L298.35 255.56L299.03 255.22L299.70 254.89L300.39 254.58L301.07 254.29L301.75 254.02L302.44 253.76L303.14 253.51L303.85 253.26L304.56 253.02L305.27 252.79L305.99 252.56L306.71 252.35L307.44 252.14L308.17 251.93L308.90 251.74L309.63 251.55L310.37 251.37L311.10 251.19L311.83 251.02L312.57 250.86L313.30 250.70L314.03 250.55L314.76 250.40L315.49 250.25L316.22 250.11L316.96 249.96L317.70 249.83L318.43 249.69L319.17 249.56L319.91 249.43L320.65 249.30L321.39 249.18L322.13 249.06L322.88 248.94L323.62 248.82L324.36 248.71L325.11 248.59L325.85 248.48L326.59 248.38L327.34 248.27L328.08 248.17L328.83 248.07L329.57 247.97L330.31 247.87L331.06 247.78L331.80 247.69L332.54 247.60L333.29 247.51L334.03 247.42L334.78 247.34L335.52 247.26L336.27 247.18L337.02 247.10L337.76 247.02L338.51 246.95L339.26 246.88L340.00 246.81L340.75 246.74L341.50 246.67L342.24 246.60L342.99 246.54L343.74 246.47L344.49 246.41L345.24 246.35L345.98 246.29L346.73 246.24L347.48 246.18L348.23 246.13L348.98 246.07L349.72 246.02L350.47 245.97L351.22 245.92L351.97 245.87L352.72 245.82L353.46 245.77L354.21 245.73L354.96 245.68L355.71 245.64L356.46 245.60L357.21 245.56L357.96 245.52L358.71 245.48L359.46 245.44L360.21 245.40L360.96 245.37L361.70 245.33L362.45 245.30L363.20 245.27L363.95 245.24L364.70 245.21L365.45 245.18L366.20 245.15L366.95 245.13L367.70 245.10L368.45 245.08L369.20 245.05L369.95 245.03L370.70 245.01L371.45 244.99L372.20 244.98L372.95 244.96L373.70 244.94L374.45 244.93L375.20 244.92L375.95 244.90L376.70 244.89L377.45 244.88L378.20 244.87L378.95 244.87L379.70 244.86L380.45 244.86L381.20 244.85L381.95 244.85L382.70 244.85L383.45 244.85L384.20 244.85L384.95 244.85L385.70 244.85L386.45 244.86L387.20 244.86L387.95 244.87L388.70 244.87L389.45 244.88L390.20 244.89L390.95 244.90L391.70 244.91L392.45 244.92L393.20 244.94L393.95 244.95L394.70 244.96L395.45 244.98L396.20 245.00L396.95 245.01L397.70 245.03L398.45 245.05L399.20 245.07L399.95 245.09L400.70 245.11L401.45 245.14L402.20 245.16L402.95 245.18L403.70 245.21L404.45 245.24L405.20 245.26L405.95 245.29L406.70 245.32L407.45 245.35L408.20 245.38L408.94 245.41L409.69 245.44L410.44 245.47L411.19 245.50L411.94 245.53L412.69 245.56L413.44 245.59L414.19 245.62L414.94 245.66L415.69 245.69L416.44 245.72L417.19 245.75L417.94 245.79L418.69 245.82L419.44 245.85L420.18 245.88L420.93 245.92L421.68 245.95L422.43 245.98L423.18 246.01L423.93 246.04L424.68 246.08L425.43 246.11L426.18 246.14L426.93 246.17L427.68 246.20L428.43 246.22L429.18 246.25L429.93 246.28L430.68 246.31L431.43 246.33L432.18 246.36L432.92 246.38L433.67 246.41L434.42 246.43L435.17 246.45L435.92 246.47L436.67 246.50L437.42 246.52L438.17 246.54L438.92 246.56L439.67 246.57L440.42 246.59L441.17 246.61L441.92 246.63L442.67 246.65L443.42 246.66L444.17 246.68L444.92 246.69L445.67 246.71L446.42 246.72L447.17 246.74L447.92 246.75L448.67 246.76L449.42 246.78L450.17 246.79L450.92 246.80L451.67 246.81L452.42 246.82L453.17 246.84L453.92 246.85L454.67 246.86L455.42 246.87L456.17 246.88L456.92 246.89L457.67 246.90L458.42 246.91L459.17 246.92L459.92 246.92L460.67 246.93L461.42 246.94L462.17 246.95L462.92 246.96L463.67 246.97L464.42 246.98L465.17 246.98L465.92 246.99L466.67 247.00L467.42 247.01L468.17 247.02L468.92 247.02L469.67 247.03L470.42 247.04L471.17 247.05L471.92 247.05L472.67 247.06L473.42 247.07L474.17 247.08L474.92 247.08L475.67 247.09L476.42 247.10L477.17 247.11L477.92 247.11L478.67 247.12L479.42 247.13L480.17 247.13L480.92 247.14L481.67 247.15L482.42 247.15L483.17 247.16L483.92 247.17L484.67 247.17L485.42 247.18L486.17 247.19L486.92 247.19L487.67 247.20L488.42 247.20L489.17 247.21L489.92 247.22L490.67 247.22L491.42 247.23L492.17 247.23L492.92 247.24L493.67 247.24L494.42 247.25L495.17 247.25L495.92 247.26L496.67 247.26L497.42 247.27L498.17 247.27L498.92 247.28L499.67 247.28L500.42 247.29L501.17 247.29L501.92 247.29L502.67 247.30L503.42 247.30L504.17 247.31L504.92 247.31L505.67 247.31L506.42 247.32L507.17 247.32L507.92 247.32L508.67 247.33L509.42 247.33L510.17 247.33L510.92 247.33L511.67 247.34L512.42 247.34L513.17 247.34L513.92 247.34L514.67 247.34L515.42 247.35L516.17 247.35L516.92 247.35L517.67 247.35L518.42 247.35L519.17 247.35L519.92 247.35L520.67 247.35L521.42 247.35L522.17 247.35L522.92 247.36L523.67 247.35L524.42 247.35L525.17 247.35L525.92 247.35L526.67 247.35L527.42 247.35L528.17 247.35L528.92 247.35L529.67 247.35L530.42 247.35L531.17 247.35L531.92 247.34L532.67 247.34L533.42 247.34L534.17 247.34L534.92 247.33L535.67 247.33L536.42 247.33L537.17 247.32L537.92 247.32L538.67 247.32L539.42 247.31L540.17 247.31L540.92 247.31L541.67 247.30L541.80 247.30" fill="none" stroke="#9a05a8" stroke-width="3.30" stroke-linejoin="round" clip-path="url(#ca)"/>
<path d="M99.00 245.10L99.75 245.10L100.50 245.10L101.25 245.10L102.00 245.10L102.75 245.10L103.50 245.10L104.25 245.10L105.00 245.10L105.75 245.10L106.50 245.10L107.25 245.10L108.00 245.10L108.75 245.10L109.50 245.10L110.25 245.10L111.00 245.10L111.75 245.10L112.50 245.10L113.25 245.10L114.00 245.10L114.75 245.10L115.50 245.10L116.25 245.10L117.00 245.10L117.75 245.10L118.50 245.10L119.25 245.10L120.00 245.10L120.75 245.10L121.50 245.10L122.25 245.10L123.00 245.10L123.75 245.10L124.50 245.10L125.25 245.10L126.00 245.10L126.75 245.10L127.50 245.10L128.25 245.10L129.00 245.10L129.75 245.10L130.50 245.10L131.25 245.10L132.00 245.10L132.75 245.10L133.50 245.09L134.25 245.09L135.00 245.09L135.75 245.08L136.50 245.08L137.25 245.07L138.00 245.07L138.75 245.06L139.50 245.06L140.26 245.05L141.01 245.04L141.76 245.03L142.51 245.02L143.26 245.01L144.01 245.00L144.76 244.99L145.51 244.98L146.25 244.97L147.00 244.96L147.75 244.94L148.50 244.93L149.25 244.91L150.00 244.90L150.75 244.88L151.50 244.85L152.25 244.80L153.00 244.75L153.75 244.68L154.50 244.61L155.24 244.53L155.99 244.45L156.73 244.36L157.48 244.27L158.22 244.17L158.96 244.06L159.70 243.93L160.44 243.78L161.18 243.61L161.91 243.43L162.64 243.23L163.36 243.02L164.07 242.81L164.77 242.58L165.46 242.31L166.16 242.02L166.84 241.70L167.52 241.35L168.19 240.99L168.84 240.61L169.49 240.22L170.11 239.83L170.72 239.41L171.32 238.96L171.91 238.49L172.49 238.00L173.05 237.49L173.60 236.98L174.14 236.46L174.66 235.94L175.17 235.39L175.67 234.83L176.16 234.26L176.64 233.69L177.11 233.10L177.58 232.51L178.05 231.92L178.52 231.33L178.99 230.74L179.47 230.16L179.95 229.58L180.44 229.02L180.95 228.46L181.47 227.92L181.98 227.36L182.50 226.79L183.03 226.23L183.57 225.70L184.13 225.21L184.72 224.78L185.34 224.40L186.00 224.01L186.70 223.65L187.42 223.37L188.14 223.21L188.85 223.23L189.59 223.36L190.33 223.57L191.06 223.83L191.76 224.10L192.42 224.39L193.06 224.75L193.67 225.18L194.26 225.65L194.85 226.14L195.44 226.64L196.03 227.13L196.63 227.58L197.25 228.02L197.86 228.47L198.48 228.93L199.10 229.38L199.73 229.79L200.38 230.14L201.05 230.42L201.75 230.66L202.48 230.89L203.23 231.09L203.97 231.24L204.70 231.30L205.42 231.24L206.14 231.03L206.85 230.72L207.54 230.35L208.21 229.97L208.84 229.60L209.45 229.19L210.05 228.73L210.63 228.23L211.19 227.71L211.74 227.18L212.26 226.64L212.77 226.11L213.26 225.55L213.75 224.98L214.22 224.40L214.68 223.80L215.13 223.19L215.57 222.58L216.01 221.96L216.43 221.34L216.85 220.72L217.27 220.10L217.68 219.47L218.08 218.84L218.47 218.20L218.86 217.56L219.24 216.91L219.62 216.26L219.99 215.61L220.36 214.96L220.73 214.30L221.10 213.64L221.46 212.99L221.82 212.33L222.18 211.67L222.54 211.01L222.90 210.36L223.26 209.70L223.62 209.04L223.97 208.38L224.33 207.71L224.68 207.05L225.03 206.39L225.38 205.72L225.73 205.05L226.07 204.38L226.41 203.71L226.75 203.04L227.08 202.37L227.41 201.70L227.74 201.02L228.06 200.34L228.37 199.66L228.69 198.98L228.99 198.30L229.29 197.62L229.59 196.93L229.87 196.24L230.15 195.55L230.43 194.85L230.70 194.15L230.97 193.45L231.23 192.75L231.49 192.04L231.75 191.34L232.01 190.63L232.28 189.93L232.54 189.22L232.80 188.52L233.07 187.82L233.33 187.12L233.59 186.41L233.85 185.71L234.11 185.00L234.36 184.29L234.62 183.59L234.87 182.88L235.14 182.18L235.40 181.48L235.67 180.78L235.95 180.08L236.24 179.39L236.54 178.71L236.84 178.02L237.14 177.31L237.44 176.59L237.75 175.88L238.07 175.18L238.41 174.49L238.76 173.82L239.14 173.19L239.54 172.59L239.97 172.03L240.47 171.47L241.06 170.87L241.70 170.31L242.35 169.87L242.97 169.62L243.54 169.66L244.13 170.02L244.71 170.59L245.25 171.28L245.71 171.99L246.07 172.64L246.37 173.27L246.65 173.93L246.90 174.62L247.14 175.34L247.35 176.07L247.55 176.81L247.74 177.56L247.92 178.32L248.10 179.07L248.27 179.82L248.44 180.56L248.62 181.29L248.78 182.01L248.95 182.74L249.11 183.47L249.27 184.21L249.42 184.94L249.57 185.67L249.72 186.41L249.86 187.14L250.00 187.88L250.14 188.62L250.28 189.36L250.41 190.10L250.55 190.84L250.68 191.57L250.81 192.32L250.94 193.06L251.06 193.80L251.19 194.54L251.31 195.28L251.44 196.02L251.56 196.76L251.68 197.50L251.81 198.24L251.93 198.98L252.05 199.72L252.18 200.46L252.30 201.20L252.42 201.94L252.54 202.68L252.66 203.42L252.78 204.16L252.89 204.90L253.01 205.64L253.13 206.38L253.24 207.12L253.35 207.87L253.47 208.61L253.58 209.35L253.69 210.09L253.80 210.83L253.91 211.58L254.02 212.32L254.13 213.06L254.23 213.80L254.34 214.54L254.45 215.29L254.56 216.03L254.66 216.77L254.77 217.51L254.88 218.26L254.98 219.00L255.09 219.74L255.20 220.48L255.30 221.23L255.41 221.97L255.52 222.71L255.62 223.45L255.73 224.20L255.83 224.94L255.94 225.68L256.05 226.42L256.15 227.17L256.26 227.91L256.36 228.65L256.47 229.39L256.57 230.14L256.68 230.88L256.78 231.62L256.88 232.37L256.99 233.11L257.09 233.85L257.19 234.59L257.29 235.34L257.40 236.08L257.50 236.82L257.60 237.57L257.70 238.31L257.80 239.05L257.90 239.80L258.00 240.54L258.10 241.28L258.20 242.03L258.30 242.77L258.40 243.51L258.50 244.26L258.60 245.00L258.70 245.74L258.79 246.49L258.89 247.23L258.98 247.98L259.08 248.72L259.17 249.46L259.26 250.21L259.35 250.95L259.44 251.70L259.53 252.44L259.62 253.19L259.71 253.93L259.80 254.68L259.89 255.42L259.97 256.17L260.06 256.91L260.15 257.66L260.24 258.40L260.34 259.15L260.43 259.89L260.52 260.64L260.61 261.38L260.71 262.12L260.80 262.87L260.90 263.61L261.00 264.35L261.10 265.10L261.20 265.84L261.31 266.58L261.41 267.32L261.52 268.07L261.63 268.81L261.74 269.55L261.85 270.29L261.96 271.03L262.08 271.78L262.19 272.52L262.31 273.26L262.42 274.00L262.54 274.75L262.66 275.49L262.78 276.23L262.90 276.97L263.03 277.71L263.16 278.46L263.29 279.20L263.42 279.93L263.56 280.67L263.70 281.41L263.84 282.15L263.99 282.88L264.14 283.61L264.29 284.34L264.45 285.07L264.62 285.80L264.78 286.53L264.95 287.26L265.13 288.00L265.30 288.75L265.49 289.50L265.68 290.26L265.88 291.00L266.09 291.74L266.32 292.47L266.57 293.18L266.83 293.87L267.12 294.53L267.42 295.17L267.77 295.80L268.23 296.51L268.77 297.20L269.34 297.74L269.91 297.99L270.48 297.88L271.09 297.50L271.71 296.93L272.29 296.28L272.79 295.65L273.19 295.08L273.57 294.48L273.91 293.85L274.24 293.20L274.55 292.52L274.84 291.83L275.12 291.12L275.38 290.39L275.65 289.67L275.90 288.93L276.16 288.20L276.42 287.47L276.68 286.74L276.95 286.03L277.23 285.33L277.51 284.64L277.79 283.94L278.06 283.24L278.33 282.53L278.60 281.83L278.86 281.13L279.12 280.42L279.39 279.72L279.65 279.01L279.92 278.31L280.20 277.61L280.47 276.92L280.75 276.22L281.04 275.53L281.34 274.85L281.64 274.16L281.96 273.49L282.28 272.82L282.61 272.14L282.94 271.46L283.29 270.78L283.64 270.11L283.99 269.44L284.36 268.78L284.74 268.12L285.13 267.47L285.52 266.84L285.93 266.22L286.35 265.61L286.79 265.02L287.24 264.44L287.71 263.87L288.20 263.30L288.72 262.74L289.24 262.19L289.79 261.65L290.34 261.13L290.91 260.62L291.48 260.13L292.06 259.65L292.64 259.19L293.23 258.76L293.83 258.32L294.45 257.90L295.07 257.48L295.71 257.07L296.36 256.68L297.02 256.29L297.68 255.92L298.35 255.56L299.03 255.22L299.70 254.89L300.39 254.58L301.07 254.29L301.75 254.02L302.44 253.76L303.14 253.51L303.85 253.26L304.56 253.02L305.27 252.79L305.99 252.56L306.71 252.35L307.44 252.14L308.17 251.93L308.90 251.74L309.63 251.55L310.37 251.37L311.10 251.19L311.83 251.02L312.57 250.86L313.30 250.70L314.03 250.55L314.76 250.40L315.49 250.25L316.22 250.11L316.96 249.96L317.70 249.83L318.43 249.69L319.17 249.56L319.91 249.43L320.65 249.30L321.39 249.18L322.13 249.06L322.88 248.94L323.62 248.82L324.36 248.71L325.11 248.59L325.85 248.48L326.59 248.38L327.34 248.27L328.08 248.17L328.83 248.07L329.57 247.97L330.31 247.87L331.06 247.78L331.80 247.69L332.54 247.60L333.29 247.51L334.03 247.42L334.78 247.34L335.52 247.26L336.27 247.18L337.02 247.10L337.76 247.02L338.51 246.95L339.26 246.88L340.00 246.81L340.75 246.74L341.50 246.67L342.24 246.60L342.99 246.54L343.74 246.47L344.49 246.41L345.24 246.35L345.98 246.29L346.73 246.24L347.48 246.18L348.23 246.13L348.98 246.07L349.72 246.02L350.47 245.97L351.22 245.92L351.97 245.87L352.72 245.82L353.46 245.77L354.21 245.73L354.96 245.68L355.71 245.64L356.46 245.60L357.21 245.56L357.96 245.52L358.71 245.48L359.46 245.44L360.21 245.40L360.96 245.37L361.70 245.33L362.45 245.30L363.20 245.27L363.95 245.24L364.70 245.21L365.45 245.18L366.20 245.15L366.95 245.13L367.70 245.10L368.45 245.08L369.20 245.05L369.95 245.03L370.70 245.01L371.45 244.99L372.20 244.98L372.95 244.96L373.70 244.94L374.45 244.93L375.20 244.92L375.95 244.90L376.70 244.89L377.45 244.88L378.20 244.87L378.95 244.87L379.70 244.86L380.45 244.86L381.20 244.85L381.95 244.85L382.70 244.85L383.45 244.85L384.20 244.85L384.95 244.85L385.70 244.85L386.45 244.86L387.20 244.86L387.95 244.87L388.70 244.87L389.45 244.88L390.20 244.89L390.95 244.90L391.70 244.91L392.45 244.92L393.20 244.94L393.95 244.95L394.70 244.96L395.45 244.98L396.20 245.00L396.95 245.01L397.70 245.03L398.45 245.05L399.20 245.07L399.95 245.09L400.70 245.11L401.45 245.14L402.20 245.16L402.95 245.18L403.70 245.21L404.45 245.24L405.20 245.26L405.95 245.29L406.70 245.32L407.45 245.35L408.20 245.38L408.94 245.41L409.69 245.44L410.44 245.47L411.19 245.50L411.94 245.53L412.69 245.56L413.44 245.59L414.19 245.62L414.94 245.66L415.69 245.69L416.44 245.72L417.19 245.75L417.94 245.79L418.69 245.82L419.44 245.85L420.18 245.88L420.93 245.92L421.68 245.95L422.43 245.98L423.18 246.01L423.93 246.04L424.68 246.08L425.43 246.11L426.18 246.14L426.93 246.17L427.68 246.20L428.43 246.22L429.18 246.25L429.93 246.28L430.68 246.31L431.43 246.33L432.18 246.36L432.92 246.38L433.67 246.41L434.42 246.43L435.17 246.45L435.92 246.47L436.67 246.50L437.42 246.52L438.17 246.54L438.92 246.56L439.67 246.57L440.42 246.59L441.17 246.61L441.92 246.63L442.67 246.65L443.42 246.66L444.17 246.68L444.92 246.69L445.67 246.71L446.42 246.72L447.17 246.74L447.92 246.75L448.67 246.76L449.42 246.78L450.17 246.79L450.92 246.80L451.67 246.81L452.42 246.82L453.17 246.84L453.92 246.85L454.67 246.86L455.42 246.87L456.17 246.88L456.92 246.89L457.67 246.90L458.42 246.91L459.17 246.92L459.92 246.92L460.67 246.93L461.42 246.94L462.17 246.95L462.92 246.96L463.67 246.97L464.42 246.98L465.17 246.98L465.92 246.99L466.67 247.00L467.42 247.01L468.17 247.02L468.92 247.02L469.67 247.03L470.42 247.04L471.17 247.05L471.92 247.05L472.67 247.06L473.42 247.07L474.17 247.08L474.92 247.08L475.67 247.09L476.42 247.10L477.17 247.11L477.92 247.11L478.67 247.12L479.42 247.13L480.17 247.13L480.92 247.14L481.67 247.15L482.42 247.15L483.17 247.16L483.92 247.17L484.67 247.17L485.42 247.18L486.17 247.19L486.92 247.19L487.67 247.20L488.42 247.20L489.17 247.21L489.92 247.22L490.67 247.22L491.42 247.23L492.17 247.23L492.92 247.24L493.67 247.24L494.42 247.25L495.17 247.25L495.92 247.26L496.67 247.26L497.42 247.27L498.17 247.27L498.92 247.28L499.67 247.28L500.42 247.29L501.17 247.29L501.92 247.29L502.67 247.30L503.42 247.30L504.17 247.31L504.92 247.31L505.67 247.31L506.42 247.32L507.17 247.32L507.92 247.32L508.67 247.33L509.42 247.33L510.17 247.33L510.92 247.33L511.67 247.34L512.42 247.34L513.17 247.34L513.92 247.34L514.67 247.34L515.42 247.35L516.17 247.35L516.92 247.35L517.67 247.35L518.42 247.35L519.17 247.35L519.92 247.35L520.67 247.35L521.42 247.35L522.17 247.35L522.92 247.36L523.67 247.35L524.42 247.35L525.17 247.35L525.92 247.35L526.67 247.35L527.42 247.35L528.17 247.35L528.92 247.35L529.67 247.35L530.42 247.35L531.17 247.35L531.92 247.34L532.67 247.34L533.42 247.34L534.17 247.34L534.92 247.33L535.67 247.33L536.42 247.33L537.17 247.32L537.92 247.32L538.67 247.32L539.42 247.31L540.17 247.31L540.92 247.31L541.67 247.30L541.80 247.30" fill="none" stroke="#ff55f5" stroke-width="3.30" stroke-linejoin="round" stroke-dasharray="11 10.5" stroke-dashoffset="10.0" clip-path="url(#ca)"/>
<g stroke="#000" stroke-width="1.75"><line x1="154.35" y1="356.00" x2="154.35" y2="348.20"/><line x1="209.70" y1="356.00" x2="209.70" y2="348.20"/><line x1="265.05" y1="356.00" x2="265.05" y2="348.20"/><line x1="320.40" y1="356.00" x2="320.40" y2="348.20"/><line x1="375.75" y1="356.00" x2="375.75" y2="348.20"/><line x1="431.10" y1="356.00" x2="431.10" y2="348.20"/><line x1="486.45" y1="356.00" x2="486.45" y2="348.20"/><line x1="99.00" y1="300.67" x2="106.80" y2="300.67"/><line x1="99.00" y1="245.08" x2="106.80" y2="245.08"/><line x1="99.00" y1="189.50" x2="106.80" y2="189.50"/><line x1="99.00" y1="133.92" x2="106.80" y2="133.92"/><line x1="99.00" y1="78.33" x2="106.80" y2="78.33"/></g>
<rect x="99.00" y="22.50" width="442.80" height="333.50" fill="none" stroke="#000" stroke-width="1.85"/>
<g stroke="#dddddd" stroke-width="0.9"><line x1="764.80" y1="22.50" x2="764.80" y2="356.00"/><line x1="828.00" y1="22.50" x2="828.00" y2="356.00"/><line x1="891.20" y1="22.50" x2="891.20" y2="356.00"/><line x1="954.40" y1="22.50" x2="954.40" y2="356.00"/><line x1="1017.60" y1="22.50" x2="1017.60" y2="356.00"/><line x1="1080.80" y1="22.50" x2="1080.80" y2="356.00"/><line x1="701.60" y1="70.39" x2="1144.00" y2="70.39"/><line x1="701.60" y1="118.04" x2="1144.00" y2="118.04"/><line x1="701.60" y1="165.68" x2="1144.00" y2="165.68"/><line x1="701.60" y1="213.32" x2="1144.00" y2="213.32"/><line x1="701.60" y1="260.96" x2="1144.00" y2="260.96"/><line x1="701.60" y1="308.61" x2="1144.00" y2="308.61"/></g>
<path d="M709.10 103.40L709.70 103.91L710.34 104.32L711.00 104.60L711.73 104.78L712.50 104.92L713.23 105.00L713.91 104.88L714.54 104.46L715.15 103.91L715.72 103.41L716.24 102.86L716.73 102.29L717.24 101.73L717.80 101.25L718.41 100.82L719.07 100.44L719.75 100.07L720.42 99.70L721.05 99.31L721.63 98.86L722.14 98.36L722.63 97.81L723.08 97.21L723.52 96.59L723.95 95.95L724.38 95.31L724.81 94.69L725.23 94.08L725.64 93.45L726.05 92.81L726.45 92.17L726.85 91.54L727.25 90.90L727.65 90.27L728.07 89.65L728.50 89.04L728.95 88.44L729.41 87.85L729.88 87.27L730.36 86.69L730.85 86.11L731.35 85.55L731.86 84.99L732.39 84.45L732.91 83.91L733.45 83.40L734.00 82.90L734.56 82.41L735.14 81.92L735.72 81.44L736.32 80.98L736.93 80.53L737.55 80.09L738.19 79.69L738.82 79.31L739.47 78.96L740.13 78.62L740.80 78.30L741.49 78.00L742.18 77.70L742.89 77.42L743.59 77.15L744.31 76.89L745.02 76.65L745.73 76.41L746.45 76.19L747.16 75.97L747.88 75.76L748.60 75.56L749.32 75.36L750.04 75.17L750.77 74.98L751.50 74.80L752.23 74.63L752.97 74.46L753.70 74.29L754.44 74.13L755.17 73.97L755.91 73.82L756.64 73.67L757.38 73.52L758.11 73.38L758.85 73.24L759.59 73.10L760.33 72.96L761.06 72.83L761.81 72.70L762.55 72.59L763.29 72.47L764.03 72.37L764.77 72.28L765.52 72.19L766.26 72.10L767.01 72.01L767.75 71.93L768.50 71.85L769.24 71.76L769.99 71.69L770.74 71.61L771.48 71.53L772.23 71.46L772.98 71.40L773.73 71.33L774.48 71.27L775.22 71.22L775.97 71.17L776.72 71.12L777.47 71.08L778.22 71.04L778.97 71.01L779.72 70.98L780.46 70.95L781.21 70.92L781.96 70.89L782.71 70.87L783.46 70.84L784.21 70.82L784.96 70.80L785.71 70.78L786.46 70.76L787.21 70.74L787.96 70.73L788.71 70.72L789.46 70.71L790.21 70.70L790.96 70.70L791.71 70.70L792.46 70.71L793.21 70.72L793.96 70.74L794.71 70.76L795.46 70.79L796.21 70.82L796.96 70.85L797.71 70.89L798.46 70.93L799.21 70.97L799.96 71.01L800.71 71.05L801.46 71.10L802.21 71.15L802.95 71.19L803.70 71.24L804.45 71.30L805.19 71.36L805.94 71.43L806.69 71.50L807.43 71.59L808.18 71.67L808.92 71.76L809.67 71.86L810.41 71.95L811.16 72.05L811.90 72.15L812.65 72.26L813.39 72.36L814.13 72.47L814.87 72.57L815.62 72.67L816.36 72.78L817.10 72.89L817.84 73.00L818.58 73.12L819.32 73.24L820.06 73.36L820.80 73.48L821.54 73.61L822.28 73.73L823.02 73.87L823.76 74.00L824.50 74.13L825.24 74.27L825.97 74.41L826.71 74.55L827.45 74.69L828.18 74.84L828.92 74.98L829.65 75.13L830.39 75.29L831.12 75.44L831.85 75.61L832.58 75.77L833.32 75.94L834.05 76.11L834.78 76.28L835.51 76.46L836.24 76.63L836.96 76.81L837.69 77.00L838.42 77.18L839.14 77.36L839.87 77.55L840.59 77.74L841.32 77.94L842.04 78.13L842.76 78.33L843.49 78.53L844.21 78.73L844.93 78.94L845.65 79.15L846.37 79.35L847.09 79.56L847.81 79.78L848.53 79.99L849.25 80.20L849.97 80.42L850.69 80.64L851.41 80.86L852.13 81.08L852.84 81.30L853.56 81.52L854.27 81.74L854.99 81.97L855.71 82.19L856.42 82.42L857.14 82.64L857.85 82.87L858.56 83.10L859.28 83.33L859.99 83.56L860.70 83.79L861.42 84.03L862.13 84.26L862.84 84.50L863.55 84.74L864.26 84.98L864.97 85.22L865.68 85.47L866.39 85.71L867.10 85.96L867.81 86.20L868.52 86.45L869.22 86.70L869.93 86.95L870.64 87.20L871.35 87.45L872.05 87.71L872.76 87.96L873.46 88.22L874.17 88.47L874.87 88.73L875.57 88.99L876.28 89.25L876.98 89.51L877.68 89.77L878.39 90.04L879.09 90.30L879.79 90.57L880.49 90.83L881.19 91.10L881.89 91.37L882.59 91.64L883.29 91.92L883.99 92.19L884.68 92.47L885.38 92.75L886.08 93.02L886.77 93.30L887.47 93.59L888.16 93.87L888.86 94.16L889.55 94.44L890.24 94.73L890.93 95.02L891.62 95.31L892.31 95.60L893.00 95.90L893.69 96.20L894.38 96.49L895.07 96.80L895.75 97.10L896.44 97.40L897.12 97.71L897.81 98.02L898.49 98.32L899.17 98.63L899.86 98.95L900.54 99.26L901.22 99.57L901.90 99.89L902.58 100.21L903.26 100.53L903.94 100.84L904.62 101.16L905.30 101.49L905.97 101.81L906.65 102.13L907.33 102.45L908.00 102.78L908.68 103.10L909.35 103.43L910.03 103.76L910.70 104.08L911.38 104.41L912.05 104.74L912.72 105.07L913.40 105.40L914.07 105.74L914.74 106.07L915.41 106.41L916.08 106.74L916.75 107.08L917.42 107.42L918.09 107.76L918.76 108.10L919.43 108.44L920.10 108.78L920.76 109.12L921.43 109.47L922.10 109.81L922.76 110.16L923.43 110.51L924.09 110.86L924.75 111.21L925.42 111.56L926.08 111.91L926.74 112.27L927.40 112.62L928.06 112.98L928.72 113.33L929.38 113.69L930.03 114.05L930.69 114.41L931.35 114.78L932.00 115.14L932.66 115.51L933.31 115.87L933.97 116.24L934.62 116.61L935.27 116.98L935.92 117.35L936.57 117.73L937.22 118.10L937.87 118.48L938.52 118.85L939.17 119.23L939.82 119.61L940.46 119.99L941.11 120.37L941.75 120.76L942.40 121.14L943.04 121.52L943.68 121.91L944.33 122.30L944.97 122.69L945.61 123.08L946.25 123.47L946.88 123.87L947.52 124.26L948.16 124.66L948.79 125.06L949.43 125.46L950.06 125.86L950.69 126.26L951.33 126.67L951.96 127.07L952.59 127.48L953.21 127.89L953.84 128.30L954.47 128.71L955.09 129.13L955.72 129.54L956.34 129.95L956.97 130.37L957.59 130.79L958.21 131.21L958.84 131.62L959.46 132.04L960.08 132.47L960.70 132.89L961.32 133.31L961.94 133.73L962.56 134.16L963.17 134.59L963.79 135.01L964.41 135.44L965.02 135.87L965.64 136.30L966.25 136.73L966.87 137.16L967.48 137.60L968.09 138.03L968.70 138.47L969.31 138.90L969.92 139.34L970.53 139.78L971.14 140.22L971.75 140.66L972.35 141.10L972.96 141.54L973.56 141.98L974.17 142.43L974.77 142.87L975.37 143.32L975.97 143.77L976.57 144.22L977.17 144.67L977.77 145.12L978.36 145.57L978.96 146.03L979.56 146.48L980.15 146.94L980.74 147.40L981.34 147.86L981.93 148.32L982.52 148.78L983.11 149.25L983.70 149.71L984.29 150.18L984.88 150.64L985.46 151.11L986.05 151.58L986.64 152.05L987.22 152.52L987.81 152.99L988.39 153.46L988.97 153.93L989.56 154.40L990.14 154.87L990.72 155.35L991.29 155.83L991.87 156.31L992.45 156.79L993.02 157.27L993.59 157.76L994.17 158.24L994.74 158.73L995.31 159.21L995.88 159.70L996.45 160.18L997.02 160.67L997.59 161.16L998.16 161.64L998.73 162.13L999.30 162.62L999.87 163.11L1000.44 163.59L1001.01 164.08L1001.58 164.57L1002.15 165.06L1002.72 165.55L1003.29 166.03L1003.86 166.52L1004.43 167.01L1005.00 167.50L1005.56 167.99L1006.13 168.49L1006.70 168.98L1007.26 169.47L1007.83 169.96L1008.40 170.45L1008.96 170.95L1009.53 171.44L1010.09 171.93L1010.66 172.43L1011.22 172.92L1011.78 173.42L1012.34 173.91L1012.91 174.41L1013.47 174.91L1014.03 175.40L1014.59 175.90L1015.15 176.40L1015.71 176.90L1016.27 177.40L1016.82 177.90L1017.38 178.40L1017.94 178.91L1018.49 179.41L1019.05 179.91L1019.60 180.42L1020.16 180.92L1020.71 181.43L1021.26 181.94L1021.82 182.45L1022.37 182.95L1022.92 183.46L1023.47 183.97L1024.02 184.48L1024.57 184.99L1025.11 185.51L1025.66 186.02L1026.21 186.53L1026.76 187.05L1027.30 187.56L1027.85 188.07L1028.40 188.59L1028.94 189.10L1029.49 189.62L1030.03 190.13L1030.58 190.65L1031.12 191.16L1031.66 191.68L1032.21 192.20L1032.75 192.71L1033.30 193.23L1033.84 193.75L1034.38 194.26L1034.93 194.78L1035.47 195.30L1036.01 195.82L1036.56 196.33L1037.10 196.85L1037.64 197.37L1038.18 197.89L1038.72 198.41L1039.27 198.93L1039.81 199.45L1040.35 199.97L1040.89 200.49L1041.42 201.01L1041.96 201.53L1042.50 202.06L1043.04 202.58L1043.57 203.10L1044.11 203.63L1044.65 204.15L1045.18 204.68L1045.71 205.21L1046.24 205.74L1046.78 206.27L1047.31 206.80L1047.84 207.33L1048.36 207.86L1048.89 208.39L1049.42 208.92L1049.94 209.46L1050.47 210.00L1050.99 210.53L1051.51 211.07L1052.04 211.61L1052.56 212.15L1053.08 212.69L1053.60 213.23L1054.12 213.77L1054.64 214.31L1055.15 214.85L1055.67 215.40L1056.19 215.94L1056.70 216.49L1057.22 217.03L1057.73 217.58L1058.24 218.13L1058.76 218.68L1059.27 219.22L1059.78 219.77L1060.29 220.32L1060.80 220.87L1061.31 221.43L1061.81 221.98L1062.32 222.53L1062.83 223.08L1063.33 223.64L1063.84 224.19L1064.34 224.75L1064.84 225.30L1065.35 225.86L1065.85 226.42L1066.35 226.98L1066.84 227.54L1067.34 228.10L1067.84 228.66L1068.34 229.22L1068.83 229.78L1069.33 230.35L1069.82 230.91L1070.32 231.48L1070.81 232.04L1071.30 232.61L1071.79 233.17L1072.29 233.74L1072.78 234.31L1073.27 234.87L1073.76 235.44L1074.25 236.01L1074.74 236.57L1075.23 237.14L1075.72 237.71L1076.21 238.28L1076.70 238.85L1077.19 239.41L1077.68 239.98L1078.17 240.55L1078.66 241.12L1079.15 241.68L1079.64 242.25L1080.13 242.82L1080.62 243.39L1081.11 243.96L1081.60 244.52L1082.09 245.09L1082.58 245.66L1083.07 246.23L1083.56 246.80L1084.05 247.37L1084.54 247.94L1085.02 248.51L1085.51 249.08L1086.00 249.65L1086.48 250.22L1086.97 250.79L1087.46 251.36L1087.94 251.94L1088.42 252.51L1088.91 253.08L1089.39 253.66L1089.87 254.23L1090.35 254.81L1090.83 255.38L1091.31 255.96L1091.79 256.54L1092.27 257.12L1092.74 257.70L1093.22 258.28L1093.69 258.86L1094.16 259.44L1094.64 260.02L1095.11 260.60L1095.58 261.18L1096.06 261.77L1096.53 262.35L1097.00 262.93L1097.47 263.52L1097.94 264.10L1098.41 264.69L1098.88 265.27L1099.34 265.86L1099.81 266.45L1100.28 267.03L1100.74 267.62L1101.21 268.21L1101.67 268.80L1102.14 269.39L1102.60 269.98L1103.06 270.57L1103.53 271.16L1103.99 271.75L1104.45 272.35L1104.91 272.94L1105.37 273.53L1105.82 274.13L1106.28 274.72L1106.74 275.32L1107.19 275.91L1107.65 276.51L1108.10 277.11L1108.55 277.71L1109.00 278.30L1109.45 278.90L1109.90 279.50L1110.35 280.10L1110.80 280.70L1111.25 281.31L1111.69 281.91L1112.14 282.51L1112.58 283.12L1113.02 283.72L1113.47 284.33L1113.91 284.93L1114.35 285.54L1114.79 286.15L1115.23 286.76L1115.67 287.36L1116.11 287.97L1116.54 288.58L1116.98 289.19L1117.41 289.81L1117.85 290.42L1118.28 291.03L1118.71 291.64L1119.15 292.26L1119.58 292.87L1120.01 293.49L1120.44 294.10L1120.86 294.72L1121.29 295.33L1121.72 295.95L1122.14 296.57L1122.57 297.19L1122.99 297.81L1123.41 298.43L1123.83 299.04L1124.26 299.67L1124.68 300.29L1125.10 300.91L1125.51 301.53L1125.93 302.15L1126.35 302.78L1126.77 303.40L1127.18 304.02L1127.60 304.65L1128.01 305.28L1128.42 305.90L1128.83 306.53L1129.24 307.16L1129.65 307.79L1130.06 308.42L1130.47 309.05L1130.87 309.68L1131.28 310.31L1131.68 310.94L1132.08 311.58L1132.49 312.21L1132.89 312.84L1133.28 313.48L1133.68 314.12L1134.08 314.75L1134.47 315.39L1134.86 316.03L1135.25 316.67L1135.64 317.31L1136.03 317.95L1136.42 318.59L1136.81 319.23L1137.19 319.87L1137.58 320.52L1137.96 321.16L1138.34 321.81L1138.72 322.45L1139.10 323.10L1139.48 323.75L1139.86 324.40L1140.24 325.05L1140.61 325.70L1140.99 326.35L1141.36 327.00L1141.73 327.65L1142.10 328.30L1142.47 328.96L1142.84 329.61L1143.20 330.26L1143.57 330.92L1143.93 331.58L1144.00 331.70" fill="none" stroke="#2616f8" stroke-width="3.30" stroke-linejoin="round" clip-path="url(#cb)"/>
<path d="M709.10 103.40L709.70 103.91L710.34 104.32L711.00 104.60L711.73 104.78L712.50 104.92L713.23 105.00L713.91 104.88L714.54 104.46L715.15 103.91L715.72 103.41L716.24 102.86L716.73 102.29L717.24 101.73L717.80 101.25L718.41 100.82L719.07 100.44L719.75 100.07L720.42 99.70L721.05 99.31L721.63 98.86L722.14 98.36L722.63 97.81L723.08 97.21L723.52 96.59L723.95 95.95L724.38 95.31L724.81 94.69L725.23 94.08L725.64 93.45L726.05 92.81L726.45 92.17L726.85 91.54L727.25 90.90L727.65 90.27L728.07 89.65L728.50 89.04L728.95 88.44L729.41 87.85L729.88 87.27L730.36 86.69L730.85 86.11L731.35 85.55L731.86 84.99L732.39 84.45L732.91 83.91L733.45 83.40L734.00 82.90L734.56 82.41L735.14 81.92L735.72 81.44L736.32 80.98L736.93 80.53L737.55 80.09L738.19 79.69L738.82 79.31L739.47 78.96L740.13 78.62L740.80 78.30L741.49 78.00L742.18 77.70L742.89 77.42L743.59 77.15L744.31 76.89L745.02 76.65L745.73 76.41L746.45 76.19L747.16 75.97L747.88 75.76L748.60 75.56L749.32 75.36L750.04 75.17L750.77 74.98L751.50 74.80L752.23 74.63L752.97 74.46L753.70 74.29L754.44 74.13L755.17 73.97L755.91 73.82L756.64 73.67L757.38 73.52L758.11 73.38L758.85 73.24L759.59 73.10L760.33 72.96L761.06 72.83L761.81 72.70L762.55 72.59L763.29 72.47L764.03 72.37L764.77 72.28L765.52 72.19L766.26 72.10L767.01 72.01L767.75 71.93L768.50 71.85L769.24 71.76L769.99 71.69L770.74 71.61L771.48 71.53L772.23 71.46L772.98 71.40L773.73 71.33L774.48 71.27L775.22 71.22L775.97 71.17L776.72 71.12L777.47 71.08L778.22 71.04L778.97 71.01L779.72 70.98L780.46 70.95L781.21 70.92L781.96 70.89L782.71 70.87L783.46 70.84L784.21 70.82L784.96 70.80L785.71 70.78L786.46 70.76L787.21 70.74L787.96 70.73L788.71 70.72L789.46 70.71L790.21 70.70L790.96 70.70L791.71 70.70L792.46 70.71L793.21 70.72L793.96 70.74L794.71 70.76L795.46 70.79L796.21 70.82L796.96 70.85L797.71 70.89L798.46 70.93L799.21 70.97L799.96 71.01L800.71 71.05L801.46 71.10L802.21 71.15L802.95 71.19L803.70 71.24L804.45 71.30L805.19 71.36L805.94 71.43L806.69 71.50L807.43 71.59L808.18 71.67L808.92 71.76L809.67 71.86L810.41 71.95L811.16 72.05L811.90 72.15L812.65 72.26L813.39 72.36L814.13 72.47L814.87 72.57L815.62 72.67L816.36 72.78L817.10 72.89L817.84 73.00L818.58 73.12L819.32 73.24L820.06 73.36L820.80 73.48L821.54 73.61L822.28 73.73L823.02 73.87L823.76 74.00L824.50 74.13L825.24 74.27L825.97 74.41L826.71 74.55L827.45 74.69L828.18 74.84L828.92 74.98L829.65 75.13L830.39 75.29L831.12 75.44L831.85 75.61L832.58 75.77L833.32 75.94L834.05 76.11L834.78 76.28L835.51 76.46L836.24 76.63L836.96 76.81L837.69 77.00L838.42 77.18L839.14 77.36L839.87 77.55L840.59 77.74L841.32 77.94L842.04 78.13L842.76 78.33L843.49 78.53L844.21 78.73L844.93 78.94L845.65 79.15L846.37 79.35L847.09 79.56L847.81 79.78L848.53 79.99L849.25 80.20L849.97 80.42L850.69 80.64L851.41 80.86L852.13 81.08L852.84 81.30L853.56 81.52L854.27 81.74L854.99 81.97L855.71 82.19L856.42 82.42L857.14 82.64L857.85 82.87L858.56 83.10L859.28 83.33L859.99 83.56L860.70 83.79L861.42 84.03L862.13 84.26L862.84 84.50L863.55 84.74L864.26 84.98L864.97 85.22L865.68 85.47L866.39 85.71L867.10 85.96L867.81 86.20L868.52 86.45L869.22 86.70L869.93 86.95L870.64 87.20L871.35 87.45L872.05 87.71L872.76 87.96L873.46 88.22L874.17 88.47L874.87 88.73L875.57 88.99L876.28 89.25L876.98 89.51L877.68 89.77L878.39 90.04L879.09 90.30L879.79 90.57L880.49 90.83L881.19 91.10L881.89 91.37L882.59 91.64L883.29 91.92L883.99 92.19L884.68 92.47L885.38 92.75L886.08 93.02L886.77 93.30L887.47 93.59L888.16 93.87L888.86 94.16L889.55 94.44L890.24 94.73L890.93 95.02L891.62 95.31L892.31 95.60L893.00 95.90L893.69 96.20L894.38 96.49L895.07 96.80L895.75 97.10L896.44 97.40L897.12 97.71L897.81 98.02L898.49 98.32L899.17 98.63L899.86 98.95L900.54 99.26L901.22 99.57L901.90 99.89L902.58 100.21L903.26 100.53L903.94 100.84L904.62 101.16L905.30 101.49L905.97 101.81L906.65 102.13L907.33 102.45L908.00 102.78L908.68 103.10L909.35 103.43L910.03 103.76L910.70 104.08L911.38 104.41L912.05 104.74L912.72 105.07L913.40 105.40L914.07 105.74L914.74 106.07L915.41 106.41L916.08 106.74L916.75 107.08L917.42 107.42L918.09 107.76L918.76 108.10L919.43 108.44L920.10 108.78L920.76 109.12L921.43 109.47L922.10 109.81L922.76 110.16L923.43 110.51L924.09 110.86L924.75 111.21L925.42 111.56L926.08 111.91L926.74 112.27L927.40 112.62L928.06 112.98L928.72 113.33L929.38 113.69L930.03 114.05L930.69 114.41L931.35 114.78L932.00 115.14L932.66 115.51L933.31 115.87L933.97 116.24L934.62 116.61L935.27 116.98L935.92 117.35L936.57 117.73L937.22 118.10L937.87 118.48L938.52 118.85L939.17 119.23L939.82 119.61L940.46 119.99L941.11 120.37L941.75 120.76L942.40 121.14L943.04 121.52L943.68 121.91L944.33 122.30L944.97 122.69L945.61 123.08L946.25 123.47L946.88 123.87L947.52 124.26L948.16 124.66L948.79 125.06L949.43 125.46L950.06 125.86L950.69 126.26L951.33 126.67L951.96 127.07L952.59 127.48L953.21 127.89L953.84 128.30L954.47 128.71L955.09 129.13L955.72 129.54L956.34 129.95L956.97 130.37L957.59 130.79L958.21 131.21L958.84 131.62L959.46 132.04L960.08 132.47L960.70 132.89L961.32 133.31L961.94 133.73L962.56 134.16L963.17 134.59L963.79 135.01L964.41 135.44L965.02 135.87L965.64 136.30L966.25 136.73L966.87 137.16L967.48 137.60L968.09 138.03L968.70 138.47L969.31 138.90L969.92 139.34L970.53 139.78L971.14 140.22L971.75 140.66L972.35 141.10L972.96 141.54L973.56 141.98L974.17 142.43L974.77 142.87L975.37 143.32L975.97 143.77L976.57 144.22L977.17 144.67L977.77 145.12L978.36 145.57L978.96 146.03L979.56 146.48L980.15 146.94L980.74 147.40L981.34 147.86L981.93 148.32L982.52 148.78L983.11 149.25L983.70 149.71L984.29 150.18L984.88 150.64L985.46 151.11L986.05 151.58L986.64 152.05L987.22 152.52L987.81 152.99L988.39 153.46L988.97 153.93L989.56 154.40L990.14 154.87L990.72 155.35L991.29 155.83L991.87 156.31L992.45 156.79L993.02 157.27L993.59 157.76L994.17 158.24L994.74 158.73L995.31 159.21L995.88 159.70L996.45 160.18L997.02 160.67L997.59 161.16L998.16 161.64L998.73 162.13L999.30 162.62L999.87 163.11L1000.44 163.59L1001.01 164.08L1001.58 164.57L1002.15 165.06L1002.72 165.55L1003.29 166.03L1003.86 166.52L1004.43 167.01L1005.00 167.50L1005.56 167.99L1006.13 168.49L1006.70 168.98L1007.26 169.47L1007.83 169.96L1008.40 170.45L1008.96 170.95L1009.53 171.44L1010.09 171.93L1010.66 172.43L1011.22 172.92L1011.78 173.42L1012.34 173.91L1012.91 174.41L1013.47 174.91L1014.03 175.40L1014.59 175.90L1015.15 176.40L1015.71 176.90L1016.27 177.40L1016.82 177.90L1017.38 178.40L1017.94 178.91L1018.49 179.41L1019.05 179.91L1019.60 180.42L1020.16 180.92L1020.71 181.43L1021.26 181.94L1021.81 182.45L1022.36 182.96L1022.91 183.47L1023.46 183.98L1024.01 184.49L1024.56 185.00L1025.11 185.51L1025.66 186.02L1026.20 186.54L1026.75 187.05L1027.30 187.56L1027.84 188.08L1028.39 188.59L1028.94 189.11L1029.48 189.62L1030.03 190.14L1030.57 190.65L1031.12 191.17L1031.66 191.68L1032.21 192.20L1032.75 192.71L1033.30 193.23L1033.85 193.74L1034.39 194.26L1034.94 194.77L1035.48 195.28L1036.03 195.80L1036.57 196.31L1037.12 196.83L1037.66 197.35L1038.21 197.86L1038.75 198.38L1039.30 198.89L1039.84 199.41L1040.38 199.93L1040.93 200.45L1041.47 200.96L1042.01 201.48L1042.55 202.00L1043.09 202.52L1043.63 203.04L1044.17 203.56L1044.71 204.08L1045.25 204.61L1045.79 205.13L1046.32 205.65L1046.86 206.18L1047.39 206.71L1047.93 207.23L1048.46 207.76L1048.99 208.29L1049.52 208.82L1050.05 209.35L1050.58 209.88L1051.11 210.41L1051.63 210.95L1052.16 211.48L1052.69 212.02L1053.21 212.55L1053.73 213.09L1054.26 213.63L1054.78 214.16L1055.30 214.70L1055.82 215.24L1056.35 215.78L1056.87 216.32L1057.39 216.86L1057.90 217.40L1058.42 217.95L1058.94 218.49L1059.46 219.03L1059.97 219.58L1060.49 220.12L1061.01 220.67L1061.52 221.21L1062.04 221.76L1062.55 222.30L1063.06 222.85L1063.58 223.40L1064.09 223.94L1064.60 224.49L1065.11 225.04L1065.62 225.59L1066.13 226.14L1066.63 226.70L1067.14 227.25L1067.65 227.80L1068.15 228.36L1068.66 228.91L1069.16 229.47L1069.66 230.02L1070.17 230.58L1070.67 231.13L1071.17 231.69L1071.68 232.25L1072.18 232.80L1072.68 233.36L1073.18 233.92L1073.69 234.48L1074.19 235.03L1074.69 235.59L1075.20 236.14L1075.70 236.70L1076.20 237.26L1076.71 237.81L1077.21 238.37L1077.72 238.92L1078.22 239.47L1078.73 240.03L1079.24 240.58L1079.75 241.13L1080.25 241.68L1080.76 242.24L1081.27 242.79L1081.78 243.34L1082.29 243.89L1082.80 244.44L1083.30 244.99L1083.81 245.54L1084.32 246.09L1084.83 246.65L1085.34 247.20L1085.85 247.75L1086.36 248.30L1086.87 248.85L1087.37 249.40L1087.88 249.95L1088.39 250.51L1088.90 251.06L1089.40 251.61L1089.91 252.17L1090.41 252.72L1090.92 253.28L1091.42 253.83L1091.92 254.39L1092.43 254.94L1092.93 255.50L1093.43 256.06L1093.93 256.62L1094.43 257.18L1094.92 257.74L1095.42 258.30L1095.92 258.86L1096.42 259.42L1096.91 259.99L1097.41 260.55L1097.90 261.11L1098.40 261.68L1098.90 262.24L1099.39 262.80L1099.88 263.37L1100.38 263.93L1100.87 264.50L1101.37 265.06L1101.86 265.63L1102.35 266.20L1102.84 266.76L1103.33 267.33L1103.82 267.90L1104.31 268.47L1104.80 269.04L1105.29 269.61L1105.77 270.18L1106.26 270.75L1106.74 271.32L1107.23 271.90L1107.71 272.47L1108.19 273.04L1108.67 273.62L1109.15 274.19L1109.63 274.77L1110.11 275.35L1110.59 275.93L1111.06 276.51L1111.53 277.09L1112.01 277.67L1112.48 278.25L1112.95 278.83L1113.42 279.42L1113.89 280.00L1114.36 280.59L1114.83 281.17L1115.30 281.76L1115.76 282.35L1116.23 282.94L1116.69 283.52L1117.16 284.11L1117.62 284.71L1118.08 285.30L1118.54 285.89L1119.00 286.48L1119.46 287.08L1119.92 287.67L1120.38 288.26L1120.83 288.86L1121.29 289.46L1121.74 290.05L1122.20 290.65L1122.65 291.25L1123.10 291.85L1123.55 292.45L1124.00 293.05L1124.45 293.65L1124.89 294.25L1125.34 294.86L1125.78 295.46L1126.22 296.07L1126.66 296.67L1127.10 297.28L1127.54 297.89L1127.98 298.50L1128.42 299.11L1128.85 299.72L1129.29 300.33L1129.72 300.94L1130.15 301.55L1130.58 302.17L1131.01 302.78L1131.44 303.40L1131.87 304.01L1132.30 304.63L1132.73 305.25L1133.16 305.86L1133.58 306.48L1134.01 307.10L1134.43 307.72L1134.86 308.33L1135.28 308.95L1135.71 309.57L1136.13 310.19L1136.55 310.81L1136.97 311.43L1137.40 312.05L1137.82 312.67L1138.24 313.29L1138.65 313.91L1139.07 314.54L1139.49 315.16L1139.91 315.78L1140.32 316.41L1140.74 317.03L1141.15 317.66L1141.57 318.28L1141.98 318.91L1142.39 319.54L1142.80 320.16L1143.21 320.79L1143.62 321.42L1144.00 322.00" fill="none" stroke="#0aa5fa" stroke-width="3.30" stroke-linejoin="round" stroke-dasharray="11 10.5" stroke-dashoffset="0.0" clip-path="url(#cb)"/>
<path d="M709.10 105.10L709.55 105.73L710.04 106.32L710.57 106.84L711.13 107.30L711.76 107.77L712.44 108.22L713.13 108.52L713.78 108.58L714.42 108.31L715.05 107.83L715.67 107.28L716.25 106.79L716.81 106.29L717.35 105.76L717.89 105.24L718.44 104.73L719.03 104.27L719.66 103.85L720.30 103.44L720.96 103.04L721.60 102.64L722.22 102.22L722.80 101.76L723.33 101.27L723.80 100.72L724.24 100.11L724.67 99.48L725.08 98.84L725.50 98.21L725.95 97.60L726.39 96.99L726.84 96.38L727.28 95.76L727.73 95.14L728.18 94.54L728.65 93.96L729.13 93.39L729.64 92.85L730.17 92.35L730.72 91.83L731.31 91.33L731.91 90.84L732.53 90.39L733.17 90.00L733.82 89.67L734.49 89.41L735.19 89.15L735.91 88.91L736.65 88.69L737.39 88.51L738.14 88.37L738.89 88.31L739.63 88.30L740.37 88.33L741.12 88.38L741.88 88.44L742.63 88.51L743.38 88.60L744.12 88.68L744.86 88.77L745.60 88.89L746.34 89.02L747.07 89.17L747.81 89.34L748.54 89.52L749.27 89.71L750.00 89.90L750.72 90.09L751.45 90.29L752.17 90.48L752.89 90.69L753.61 90.91L754.32 91.13L755.04 91.36L755.75 91.60L756.46 91.85L757.17 92.10L757.87 92.35L758.57 92.61L759.27 92.88L759.97 93.17L760.66 93.46L761.35 93.75L762.03 94.05L762.72 94.35L763.41 94.66L764.09 94.96L764.78 95.27L765.47 95.56L766.16 95.86L766.86 96.14L767.55 96.42L768.25 96.70L768.94 96.98L769.64 97.26L770.34 97.54L771.04 97.82L771.73 98.09L772.43 98.36L773.14 98.63L773.84 98.89L774.54 99.15L775.25 99.40L775.96 99.65L776.66 99.89L777.38 100.12L778.09 100.36L778.80 100.60L779.52 100.83L780.23 101.07L780.95 101.29L781.67 101.52L782.39 101.73L783.11 101.94L783.84 102.13L784.56 102.32L785.29 102.49L786.02 102.64L786.75 102.79L787.49 102.93L788.22 103.07L788.96 103.20L789.70 103.34L790.44 103.46L791.19 103.58L791.93 103.69L792.68 103.79L793.42 103.88L794.17 103.96L794.92 104.03L795.66 104.09L796.41 104.13L797.16 104.16L797.90 104.20L798.65 104.23L799.40 104.25L800.15 104.28L800.90 104.30L801.65 104.32L802.40 104.34L803.15 104.36L803.90 104.38L804.65 104.40L805.40 104.42L806.15 104.44L806.90 104.47L807.65 104.49L808.40 104.52L809.15 104.55L809.90 104.57L810.65 104.60L811.40 104.62L812.15 104.65L812.90 104.67L813.65 104.70L814.40 104.73L815.15 104.76L815.90 104.79L816.65 104.82L817.40 104.86L818.15 104.90L818.90 104.94L819.64 104.98L820.39 105.03L821.14 105.09L821.89 105.15L822.63 105.23L823.38 105.31L824.13 105.39L824.88 105.48L825.62 105.58L826.36 105.68L827.11 105.79L827.85 105.90L828.58 106.01L829.32 106.14L830.06 106.28L830.80 106.43L831.53 106.59L832.27 106.76L833.00 106.95L833.72 107.14L834.44 107.34L835.16 107.55L835.87 107.77L836.58 108.00L837.29 108.25L837.99 108.50L838.70 108.78L839.40 109.06L840.10 109.35L840.79 109.65L841.48 109.95L842.17 110.27L842.85 110.59L843.52 110.91L844.19 111.24L844.85 111.58L845.51 111.92L846.17 112.27L846.82 112.63L847.47 113.01L848.11 113.39L848.75 113.78L849.39 114.18L850.03 114.58L850.66 115.00L851.29 115.41L851.91 115.84L852.54 116.27L853.15 116.70L853.77 117.14L854.38 117.58L854.99 118.02L855.60 118.46L856.20 118.91L856.80 119.35L857.40 119.80L857.99 120.25L858.58 120.71L859.17 121.17L859.75 121.64L860.33 122.12L860.91 122.60L861.48 123.08L862.05 123.57L862.62 124.06L863.19 124.55L863.75 125.05L864.31 125.55L864.87 126.05L865.43 126.56L865.99 127.06L866.55 127.57L867.10 128.08L867.65 128.59L868.20 129.10L868.76 129.60L869.31 130.11L869.85 130.62L870.40 131.14L870.94 131.65L871.48 132.18L872.01 132.70L872.55 133.23L873.08 133.76L873.61 134.29L874.14 134.82L874.66 135.36L875.19 135.89L875.71 136.43L876.24 136.96L876.76 137.50L877.29 138.04L877.82 138.57L878.34 139.11L878.87 139.64L879.40 140.17L879.94 140.70L880.47 141.22L881.01 141.74L881.55 142.26L882.09 142.78L882.64 143.30L883.18 143.82L883.72 144.34L884.26 144.86L884.81 145.38L885.35 145.90L885.90 146.42L886.44 146.94L887.00 147.45L887.55 147.96L888.10 148.47L888.66 148.96L889.23 149.46L889.80 149.94L890.37 150.42L890.95 150.89L891.54 151.35L892.13 151.81L892.72 152.27L893.32 152.73L893.92 153.19L894.53 153.65L895.15 154.10L895.77 154.54L896.39 154.97L897.02 155.39L897.66 155.79L898.30 156.17L898.95 156.53L899.60 156.87L900.27 157.18L900.94 157.48L901.62 157.77L902.31 158.06L903.01 158.34L903.72 158.61L904.44 158.86L905.16 159.11L905.88 159.34L906.61 159.55L907.34 159.75L908.07 159.92L908.80 160.08L909.53 160.21L910.27 160.32L911.00 160.42L911.74 160.52L912.49 160.61L913.23 160.69L913.98 160.77L914.73 160.84L915.48 160.91L916.23 160.98L916.98 161.04L917.73 161.11L918.48 161.17L919.23 161.24L919.98 161.30L920.73 161.35L921.48 161.40L922.23 161.45L922.97 161.50L923.72 161.55L924.47 161.60L925.22 161.65L925.97 161.70L926.72 161.77L927.46 161.83L928.20 161.91L928.95 162.00L929.69 162.09L930.44 162.20L931.18 162.32L931.92 162.44L932.67 162.58L933.41 162.72L934.14 162.87L934.88 163.03L935.61 163.19L936.34 163.36L937.06 163.54L937.78 163.72L938.49 163.93L939.21 164.15L939.92 164.38L940.63 164.64L941.34 164.90L942.04 165.18L942.74 165.46L943.44 165.76L944.13 166.06L944.82 166.37L945.50 166.68L946.18 167.00L946.85 167.32L947.51 167.65L948.18 168.00L948.84 168.36L949.49 168.73L950.14 169.11L950.79 169.50L951.43 169.89L952.06 170.30L952.69 170.71L953.32 171.13L953.94 171.55L954.56 171.97L955.17 172.40L955.77 172.83L956.38 173.27L956.98 173.72L957.57 174.18L958.16 174.64L958.75 175.11L959.33 175.58L959.92 176.06L960.49 176.55L961.07 177.03L961.64 177.52L962.21 178.02L962.77 178.51L963.34 179.01L963.90 179.51L964.45 180.01L965.01 180.52L965.56 181.02L966.11 181.53L966.65 182.04L967.20 182.56L967.73 183.08L968.27 183.61L968.80 184.13L969.34 184.67L969.86 185.20L970.39 185.74L970.91 186.28L971.43 186.82L971.95 187.36L972.46 187.91L972.98 188.46L973.49 189.01L974.00 189.56L974.50 190.11L975.01 190.67L975.51 191.22L976.01 191.78L976.51 192.35L977.00 192.91L977.49 193.49L977.97 194.06L978.45 194.64L978.91 195.23L979.37 195.82L979.82 196.41L980.26 197.01L980.70 197.62L981.14 198.23L981.57 198.84L982.00 199.45L982.42 200.07L982.84 200.69L983.26 201.32L983.67 201.94L984.09 202.57L984.50 203.20L984.90 203.83L985.31 204.47L985.71 205.10L986.12 205.74L986.52 206.37L986.92 207.01L987.32 207.64L987.72 208.28L988.12 208.92L988.52 209.55L988.92 210.19L989.32 210.82L989.71 211.46L990.11 212.09L990.50 212.73L990.90 213.37L991.29 214.01L991.68 214.65L992.07 215.29L992.45 215.94L992.84 216.58L993.22 217.22L993.60 217.87L993.98 218.52L994.36 219.16L994.74 219.81L995.12 220.46L995.49 221.11L995.86 221.76L996.23 222.41L996.60 223.07L996.97 223.72L997.33 224.38L997.69 225.04L998.05 225.70L998.40 226.36L998.76 227.02L999.11 227.68L999.46 228.34L999.81 229.00L1000.17 229.67L1000.52 230.33L1000.87 230.99L1001.22 231.65L1001.58 232.31L1001.93 232.98L1002.29 233.63L1002.65 234.29L1003.01 234.95L1003.37 235.61L1003.73 236.26L1004.09 236.92L1004.46 237.58L1004.82 238.24L1005.18 238.89L1005.54 239.55L1005.91 240.21L1006.27 240.86L1006.63 241.52L1007.00 242.17L1007.37 242.83L1007.74 243.48L1008.11 244.13L1008.49 244.78L1008.86 245.43L1009.24 246.08L1009.63 246.72L1010.01 247.36L1010.40 248.00L1010.79 248.64L1011.19 249.28L1011.59 249.91L1011.99 250.55L1012.39 251.18L1012.80 251.81L1013.22 252.44L1013.63 253.06L1014.06 253.68L1014.49 254.29L1014.93 254.90L1015.37 255.50L1015.82 256.10L1016.28 256.70L1016.76 257.28L1017.24 257.86L1017.73 258.42L1018.24 258.97L1018.76 259.52L1019.30 260.06L1019.85 260.58L1020.42 261.07L1021.01 261.50L1021.63 261.92L1022.27 262.33L1022.94 262.71L1023.63 263.04L1024.33 263.30L1025.03 263.47L1025.74 263.62L1026.47 263.76L1027.20 263.88L1027.95 263.99L1028.70 264.09L1029.45 264.18L1030.21 264.26L1030.97 264.34L1031.72 264.40L1032.48 264.46L1033.23 264.52L1033.97 264.56L1034.72 264.60L1035.47 264.63L1036.22 264.66L1036.97 264.69L1037.73 264.72L1038.48 264.75L1039.23 264.78L1039.97 264.82L1040.72 264.87L1041.46 264.92L1042.21 264.99L1042.96 265.07L1043.71 265.17L1044.45 265.28L1045.20 265.40L1045.94 265.54L1046.69 265.68L1047.42 265.83L1048.15 265.99L1048.88 266.15L1049.59 266.32L1050.31 266.51L1051.02 266.73L1051.73 266.96L1052.44 267.22L1053.14 267.50L1053.84 267.79L1054.54 268.09L1055.23 268.41L1055.91 268.74L1056.59 269.08L1057.26 269.42L1057.93 269.77L1058.59 270.12L1059.24 270.48L1059.88 270.84L1060.52 271.22L1061.16 271.61L1061.79 272.01L1062.42 272.43L1063.04 272.86L1063.65 273.30L1064.26 273.75L1064.87 274.20L1065.47 274.66L1066.07 275.13L1066.65 275.60L1067.24 276.08L1067.82 276.56L1068.39 277.04L1068.95 277.52L1069.52 278.00L1070.08 278.49L1070.64 278.99L1071.20 279.49L1071.75 280.00L1072.30 280.52L1072.85 281.04L1073.39 281.56L1073.93 282.09L1074.46 282.62L1074.99 283.16L1075.52 283.71L1076.04 284.25L1076.56 284.80L1077.07 285.36L1077.58 285.92L1078.08 286.48L1078.58 287.04L1079.07 287.61L1079.55 288.18L1080.03 288.75L1080.50 289.33L1080.96 289.90L1081.42 290.49L1081.87 291.07L1082.32 291.67L1082.77 292.27L1083.21 292.87L1083.64 293.48L1084.07 294.10L1084.50 294.72L1084.92 295.34L1085.33 295.97L1085.75 296.59L1086.16 297.23L1086.57 297.86L1086.97 298.50L1087.37 299.14L1087.77 299.78L1088.17 300.42L1088.56 301.06L1088.96 301.71L1089.35 302.35L1089.73 302.99L1090.12 303.64L1090.51 304.28L1090.89 304.92L1091.27 305.56L1091.65 306.21L1092.03 306.86L1092.40 307.51L1092.77 308.16L1093.14 308.81L1093.51 309.46L1093.88 310.12L1094.24 310.78L1094.60 311.44L1094.96 312.10L1095.31 312.76L1095.67 313.42L1096.02 314.09L1096.37 314.75L1096.72 315.42L1097.06 316.08L1097.41 316.75L1097.75 317.42L1098.09 318.09L1098.43 318.75L1098.76 319.42L1099.10 320.09L1099.43 320.77L1099.76 321.44L1100.09 322.11L1100.41 322.79L1100.73 323.46L1101.05 324.14L1101.37 324.82L1101.69 325.50L1102.00 326.18L1102.32 326.86L1102.63 327.54L1102.94 328.23L1103.25 328.91L1103.56 329.59L1103.87 330.28L1104.18 330.96L1104.48 331.65L1104.79 332.33L1105.10 333.02L1105.40 333.70L1105.71 334.39L1106.01 335.07L1106.32 335.76L1106.63 336.44L1106.93 337.13L1107.24 337.81L1107.55 338.50L1107.85 339.18L1108.16 339.87L1108.46 340.55L1108.77 341.24L1109.07 341.92L1109.38 342.61L1109.68 343.29L1109.98 343.98L1110.29 344.67L1110.59 345.35L1110.89 346.04L1111.19 346.73L1111.49 347.41L1111.79 348.10L1112.09 348.79L1112.39 349.48L1112.69 350.16L1112.99 350.85L1113.29 351.54L1113.58 352.23L1113.88 352.92L1114.18 353.61L1114.47 354.30L1114.77 354.99L1115.06 355.68L1115.20 356.00" fill="none" stroke="#9a05a8" stroke-width="3.30" stroke-linejoin="round" clip-path="url(#cb)"/>
<path d="M709.10 105.10L709.55 105.73L710.04 106.32L710.57 106.84L711.13 107.30L711.76 107.77L712.44 108.22L713.13 108.52L713.78 108.58L714.42 108.31L715.05 107.83L715.67 107.28L716.25 106.79L716.81 106.29L717.35 105.76L717.89 105.24L718.44 104.73L719.03 104.27L719.66 103.85L720.30 103.44L720.96 103.04L721.60 102.64L722.22 102.22L722.80 101.76L723.33 101.27L723.80 100.72L724.24 100.11L724.67 99.48L725.08 98.84L725.50 98.21L725.95 97.60L726.39 96.99L726.84 96.38L727.28 95.76L727.73 95.14L728.18 94.54L728.65 93.96L729.13 93.39L729.64 92.85L730.17 92.35L730.72 91.83L731.31 91.33L731.91 90.84L732.53 90.39L733.17 90.00L733.82 89.67L734.49 89.41L735.19 89.15L735.91 88.91L736.65 88.69L737.39 88.51L738.14 88.37L738.89 88.31L739.63 88.30L740.37 88.33L741.12 88.38L741.88 88.44L742.63 88.51L743.38 88.60L744.12 88.68L744.86 88.77L745.60 88.89L746.34 89.02L747.07 89.17L747.81 89.34L748.54 89.52L749.27 89.71L750.00 89.90L750.72 90.09L751.45 90.29L752.17 90.48L752.89 90.69L753.61 90.91L754.32 91.13L755.04 91.36L755.75 91.60L756.46 91.85L757.17 92.10L757.87 92.35L758.57 92.61L759.27 92.88L759.97 93.17L760.66 93.46L761.35 93.75L762.03 94.05L762.72 94.35L763.41 94.66L764.09 94.96L764.78 95.27L765.47 95.56L766.16 95.86L766.86 96.14L767.55 96.42L768.25 96.70L768.94 96.98L769.64 97.26L770.34 97.54L771.04 97.82L771.73 98.09L772.43 98.36L773.14 98.63L773.84 98.89L774.54 99.15L775.25 99.40L775.96 99.65L776.66 99.89L777.38 100.12L778.09 100.36L778.80 100.60L779.52 100.83L780.23 101.07L780.95 101.29L781.67 101.52L782.39 101.73L783.11 101.94L783.84 102.13L784.56 102.32L785.29 102.49L786.02 102.64L786.75 102.79L787.49 102.93L788.22 103.07L788.96 103.20L789.70 103.34L790.44 103.46L791.19 103.58L791.93 103.69L792.68 103.79L793.42 103.88L794.17 103.96L794.92 104.03L795.66 104.09L796.41 104.13L797.16 104.16L797.90 104.20L798.65 104.23L799.40 104.25L800.15 104.28L800.90 104.30L801.65 104.32L802.40 104.34L803.15 104.36L803.90 104.38L804.65 104.40L805.40 104.42L806.15 104.44L806.90 104.47L807.65 104.49L808.40 104.52L809.15 104.55L809.90 104.57L810.65 104.60L811.40 104.62L812.15 104.65L812.90 104.67L813.65 104.70L814.40 104.73L815.15 104.76L815.90 104.79L816.65 104.82L817.40 104.86L818.15 104.90L818.90 104.94L819.64 104.98L820.39 105.03L821.14 105.09L821.89 105.15L822.63 105.23L823.38 105.31L824.13 105.39L824.88 105.48L825.62 105.58L826.36 105.68L827.11 105.79L827.85 105.90L828.58 106.01L829.32 106.14L830.06 106.28L830.80 106.43L831.53 106.59L832.27 106.76L833.00 106.95L833.72 107.14L834.44 107.34L835.16 107.55L835.87 107.77L836.58 108.00L837.29 108.25L837.99 108.50L838.70 108.78L839.40 109.06L840.10 109.35L840.79 109.65L841.48 109.95L842.17 110.27L842.85 110.59L843.52 110.91L844.19 111.24L844.85 111.58L845.51 111.92L846.17 112.27L846.82 112.63L847.47 113.01L848.11 113.39L848.75 113.78L849.39 114.18L850.03 114.58L850.66 115.00L851.29 115.41L851.91 115.84L852.54 116.27L853.15 116.70L853.77 117.14L854.38 117.58L854.99 118.02L855.60 118.46L856.20 118.91L856.80 119.35L857.40 119.80L857.99 120.25L858.58 120.71L859.17 121.17L859.75 121.64L860.33 122.12L860.91 122.60L861.48 123.08L862.05 123.57L862.62 124.06L863.19 124.55L863.75 125.05L864.31 125.55L864.87 126.05L865.43 126.56L865.99 127.06L866.55 127.57L867.10 128.08L867.65 128.59L868.20 129.10L868.76 129.60L869.31 130.11L869.85 130.62L870.40 131.14L870.94 131.65L871.48 132.18L872.01 132.70L872.55 133.23L873.08 133.76L873.61 134.29L874.14 134.82L874.66 135.36L875.19 135.89L875.71 136.43L876.24 136.96L876.76 137.50L877.29 138.04L877.82 138.57L878.34 139.11L878.87 139.64L879.40 140.17L879.94 140.70L880.47 141.22L881.01 141.74L881.55 142.26L882.09 142.78L882.64 143.30L883.18 143.82L883.72 144.34L884.26 144.86L884.81 145.38L885.35 145.90L885.90 146.42L886.44 146.94L887.00 147.45L887.55 147.96L888.10 148.47L888.66 148.96L889.23 149.46L889.80 149.94L890.37 150.42L890.95 150.89L891.54 151.35L892.13 151.81L892.72 152.27L893.32 152.73L893.92 153.19L894.53 153.65L895.15 154.10L895.77 154.54L896.39 154.97L897.02 155.39L897.66 155.79L898.30 156.17L898.95 156.53L899.60 156.87L900.27 157.18L900.94 157.48L901.62 157.77L902.31 158.06L903.01 158.34L903.72 158.61L904.44 158.86L905.16 159.11L905.88 159.34L906.61 159.55L907.34 159.75L908.07 159.92L908.80 160.08L909.53 160.21L910.27 160.32L911.00 160.42L911.74 160.52L912.49 160.61L913.23 160.69L913.98 160.77L914.73 160.84L915.48 160.91L916.23 160.98L916.98 161.04L917.73 161.11L918.48 161.17L919.23 161.24L919.98 161.30L920.73 161.35L921.48 161.40L922.23 161.45L922.97 161.50L923.72 161.55L924.47 161.60L925.22 161.65L925.97 161.70L926.72 161.77L927.46 161.83L928.20 161.91L928.95 162.00L929.69 162.09L930.44 162.20L931.18 162.32L931.92 162.44L932.67 162.58L933.41 162.72L934.14 162.87L934.88 163.03L935.61 163.19L936.34 163.36L937.06 163.54L937.78 163.72L938.49 163.93L939.21 164.15L939.92 164.38L940.63 164.64L941.34 164.90L942.04 165.18L942.74 165.46L943.44 165.76L944.13 166.06L944.82 166.37L945.50 166.68L946.18 167.00L946.85 167.32L947.51 167.65L948.18 168.00L948.84 168.36L949.49 168.73L950.14 169.11L950.79 169.50L951.43 169.89L952.06 170.30L952.69 170.71L953.32 171.13L953.94 171.55L954.56 171.97L955.17 172.40L955.77 172.83L956.38 173.27L956.98 173.72L957.57 174.18L958.16 174.64L958.75 175.11L959.33 175.58L959.92 176.06L960.49 176.55L961.07 177.03L961.64 177.52L962.21 178.02L962.77 178.51L963.34 179.01L963.90 179.51L964.45 180.01L965.01 180.52L965.56 181.02L966.11 181.53L966.65 182.04L967.20 182.56L967.73 183.08L968.27 183.61L968.80 184.13L969.34 184.67L969.86 185.20L970.39 185.74L970.91 186.28L971.43 186.82L971.95 187.36L972.46 187.91L972.98 188.46L973.49 189.01L974.00 189.56L974.50 190.11L975.01 190.67L975.51 191.22L976.01 191.78L976.51 192.35L977.00 192.91L977.49 193.49L977.97 194.06L978.45 194.64L978.91 195.23L979.37 195.82L979.82 196.41L980.26 197.01L980.70 197.62L981.14 198.23L981.57 198.84L982.00 199.45L982.42 200.07L982.84 200.69L983.26 201.32L983.67 201.94L984.09 202.57L984.50 203.20L984.90 203.83L985.31 204.47L985.71 205.10L986.12 205.74L986.52 206.37L986.92 207.01L987.32 207.64L987.72 208.28L988.12 208.92L988.52 209.55L988.92 210.19L989.32 210.82L989.71 211.46L990.11 212.09L990.50 212.73L990.90 213.37L991.29 214.01L991.68 214.65L992.07 215.29L992.45 215.94L992.84 216.58L993.22 217.22L993.60 217.87L993.98 218.52L994.36 219.16L994.74 219.81L995.12 220.46L995.49 221.11L995.86 221.76L996.23 222.41L996.60 223.07L996.97 223.72L997.33 224.38L997.69 225.04L998.05 225.70L998.40 226.36L998.76 227.02L999.11 227.68L999.46 228.34L999.81 229.00L1000.17 229.67L1000.52 230.33L1000.87 230.99L1001.22 231.65L1001.58 232.31L1001.93 232.98L1002.29 233.63L1002.65 234.29L1003.01 234.95L1003.37 235.61L1003.73 236.26L1004.09 236.92L1004.46 237.58L1004.82 238.24L1005.18 238.89L1005.54 239.55L1005.91 240.21L1006.27 240.86L1006.63 241.52L1007.00 242.17L1007.37 242.83L1007.74 243.48L1008.11 244.13L1008.49 244.78L1008.86 245.43L1009.24 246.08L1009.63 246.72L1010.01 247.36L1010.40 248.00L1010.79 248.64L1011.19 249.28L1011.59 249.91L1011.99 250.55L1012.39 251.18L1012.80 251.81L1013.22 252.44L1013.63 253.06L1014.06 253.68L1014.49 254.29L1014.93 254.90L1015.37 255.50L1015.82 256.10L1016.28 256.70L1016.76 257.28L1017.24 257.86L1017.73 258.42L1018.24 258.97L1018.76 259.52L1019.30 260.06L1019.85 260.58L1020.42 261.07L1021.01 261.50L1021.63 261.92L1022.27 262.33L1022.94 262.71L1023.63 263.04L1024.33 263.30L1025.03 263.47L1025.74 263.62L1026.47 263.76L1027.20 263.88L1027.95 263.99L1028.70 264.09L1029.45 264.18L1030.21 264.26L1030.97 264.34L1031.72 264.40L1032.48 264.46L1033.23 264.52L1033.97 264.56L1034.72 264.60L1035.47 264.63L1036.22 264.66L1036.97 264.69L1037.73 264.72L1038.48 264.75L1039.23 264.78L1039.97 264.82L1040.72 264.87L1041.46 264.92L1042.21 264.99L1042.96 265.07L1043.71 265.17L1044.45 265.28L1045.20 265.40L1045.94 265.54L1046.69 265.68L1047.42 265.83L1048.15 265.99L1048.88 266.15L1049.59 266.32L1050.31 266.51L1051.02 266.73L1051.73 266.96L1052.44 267.22L1053.14 267.50L1053.84 267.79L1054.54 268.09L1055.23 268.41L1055.91 268.74L1056.59 269.08L1057.26 269.42L1057.93 269.77L1058.59 270.12L1059.24 270.48L1059.88 270.84L1060.52 271.22L1061.16 271.61L1061.79 272.01L1062.42 272.43L1063.04 272.86L1063.65 273.30L1064.26 273.75L1064.87 274.20L1065.47 274.66L1066.07 275.13L1066.65 275.60L1067.24 276.08L1067.82 276.56L1068.39 277.04L1068.95 277.52L1069.52 278.00L1070.08 278.49L1070.64 278.99L1071.20 279.49L1071.75 280.00L1072.30 280.52L1072.85 281.04L1073.39 281.56L1073.93 282.09L1074.46 282.62L1074.99 283.16L1075.52 283.71L1076.04 284.25L1076.56 284.80L1077.07 285.36L1077.58 285.92L1078.08 286.48L1078.58 287.04L1079.07 287.61L1079.55 288.18L1080.03 288.75L1080.50 289.33L1080.96 289.90L1081.42 290.49L1081.87 291.07L1082.32 291.67L1082.77 292.27L1083.21 292.87L1083.64 293.48L1084.07 294.10L1084.50 294.72L1084.92 295.34L1085.33 295.97L1085.75 296.59L1086.16 297.23L1086.57 297.86L1086.97 298.50L1087.37 299.14L1087.77 299.78L1088.17 300.42L1088.56 301.06L1088.96 301.71L1089.35 302.35L1089.73 302.99L1090.12 303.64L1090.51 304.28L1090.89 304.92L1091.27 305.56L1091.65 306.21L1092.03 306.86L1092.40 307.51L1092.77 308.16L1093.14 308.81L1093.51 309.46L1093.88 310.12L1094.24 310.78L1094.60 311.44L1094.96 312.10L1095.31 312.76L1095.67 313.42L1096.02 314.09L1096.37 314.75L1096.72 315.42L1097.06 316.08L1097.41 316.75L1097.75 317.42L1098.09 318.09L1098.43 318.75L1098.76 319.42L1099.10 320.09L1099.43 320.77L1099.76 321.44L1100.09 322.11L1100.41 322.79L1100.73 323.46L1101.05 324.14L1101.37 324.82L1101.69 325.50L1102.00 326.18L1102.32 326.86L1102.63 327.54L1102.94 328.23L1103.25 328.91L1103.56 329.59L1103.87 330.28L1104.18 330.96L1104.48 331.65L1104.79 332.33L1105.10 333.02L1105.40 333.70L1105.71 334.39L1106.01 335.07L1106.32 335.76L1106.63 336.44L1106.93 337.13L1107.24 337.81L1107.55 338.50L1107.85 339.18L1108.16 339.87L1108.46 340.55L1108.77 341.24L1109.07 341.92L1109.38 342.61L1109.68 343.29L1109.98 343.98L1110.29 344.67L1110.59 345.35L1110.89 346.04L1111.19 346.73L1111.49 347.41L1111.79 348.10L1112.09 348.79L1112.39 349.48L1112.69 350.16L1112.99 350.85L1113.29 351.54L1113.58 352.23L1113.88 352.92L1114.18 353.61L1114.47 354.30L1114.77 354.99L1115.06 355.68L1115.20 356.00" fill="none" stroke="#ff55f5" stroke-width="3.30" stroke-linejoin="round" stroke-dasharray="11 10.5" stroke-dashoffset="0.0" clip-path="url(#cb)"/>
<g stroke="#000" stroke-width="1.75"><line x1="764.80" y1="356.00" x2="764.80" y2="348.20"/><line x1="828.00" y1="356.00" x2="828.00" y2="348.20"/><line x1="891.20" y1="356.00" x2="891.20" y2="348.20"/><line x1="954.40" y1="356.00" x2="954.40" y2="348.20"/><line x1="1017.60" y1="356.00" x2="1017.60" y2="348.20"/><line x1="1080.80" y1="356.00" x2="1080.80" y2="348.20"/><line x1="701.60" y1="70.39" x2="709.40" y2="70.39"/><line x1="701.60" y1="118.04" x2="709.40" y2="118.04"/><line x1="701.60" y1="165.68" x2="709.40" y2="165.68"/><line x1="701.60" y1="213.32" x2="709.40" y2="213.32"/><line x1="701.60" y1="260.96" x2="709.40" y2="260.96"/><line x1="701.60" y1="308.61" x2="709.40" y2="308.61"/></g>
<rect x="701.60" y="22.50" width="442.40" height="333.50" fill="none" stroke="#000" stroke-width="1.85"/>
<line x1="301.0" y1="43.8" x2="358.6" y2="43.8" stroke="#2616f8" stroke-width="3.3"/>
<line x1="301.0" y1="76.4" x2="358.6" y2="76.4" stroke="#0aa5fa" stroke-width="3.3" stroke-dasharray="11 10.5"/>
<line x1="301.0" y1="109.0" x2="358.6" y2="109.0" stroke="#9a05a8" stroke-width="3.3"/>
<line x1="301.0" y1="141.6" x2="358.6" y2="141.6" stroke="#ff55f5" stroke-width="3.3" stroke-dasharray="11 10.5"/>
<g font-family='"Liberation Serif", "DejaVu Serif", serif' fill="#000" style="font-kerning:none">
<g transform="translate(0 52.10)"><text x="366.06" y="0.00" font-size="26">SLE</text></g>
<g transform="translate(0 84.70)"><text x="366.06" y="0.00" font-size="26">SLE</text><text x="420.06" y="0.00" font-size="26">(</text><text x="428.44" y="0.00" font-size="26" font-style="italic">ε</text><text transform="translate(442.74 0.00) scale(1.360 1)" font-size="26">=</text><text x="468.94" y="0.00" font-size="26" font-style="italic">ε</text><text x="480.23" y="4.60" font-size="17.5">0</text><text x="489.30" y="1.50" font-size="29">/</text><text x="499.36" y="0.00" font-size="26">2</text><text x="513.46" y="0.00" font-size="26">)</text></g>
<g transform="translate(0 117.30)"><text x="367.77" y="0.00" font-size="26">WLE</text></g>
<g transform="translate(0 149.90)"><text x="367.77" y="0.00" font-size="26">WLE</text><text x="430.16" y="0.00" font-size="26">(</text><text x="438.54" y="0.00" font-size="26" font-style="italic">ε</text><text transform="translate(452.84 0.00) scale(1.360 1)" font-size="26">=</text><text x="479.04" y="0.00" font-size="26" font-style="italic">ε</text><text x="490.33" y="4.60" font-size="17.5">0</text><text x="499.40" y="1.50" font-size="29">/</text><text x="509.46" y="0.00" font-size="26">2</text><text x="523.56" y="0.00" font-size="26">)</text></g>
<g transform="translate(0 30.9)"><text x="1.98" y="0.00" font-size="30">(</text><text x="12.11" y="0.00" font-size="30" font-style="italic">a</text><text x="27.63" y="0.00" font-size="30">)</text></g>
<g transform="translate(0 30.9)"><text x="598.48" y="0.00" font-size="30">(</text><text x="608.49" y="0.00" font-size="30" font-style="italic">b</text><text x="624.83" y="0.00" font-size="30">)</text></g>
<text x="99.30" y="385.6" font-size="26" text-anchor="middle" letter-spacing="-0.6">6.0</text>
<text x="154.65" y="385.6" font-size="26" text-anchor="middle" letter-spacing="-0.6">6.5</text>
<text x="210.00" y="385.6" font-size="26" text-anchor="middle" letter-spacing="-0.6">7.0</text>
<text x="265.35" y="385.6" font-size="26" text-anchor="middle" letter-spacing="-0.6">7.5</text>
<text x="320.70" y="385.6" font-size="26" text-anchor="middle" letter-spacing="-0.6">8.0</text>
<text x="376.05" y="385.6" font-size="26" text-anchor="middle" letter-spacing="-0.6">8.5</text>
<text x="431.40" y="385.6" font-size="26" text-anchor="middle" letter-spacing="-0.6">9.0</text>
<text x="486.75" y="385.6" font-size="26" text-anchor="middle" letter-spacing="-0.6">9.5</text>
<text x="542.10" y="385.6" font-size="26" text-anchor="middle" letter-spacing="-0.6">10.0</text>
<g transform="translate(0 365.30)"><text transform="translate(38.05 0.00) scale(1.430 1)" font-size="26">−</text><text x="88.4" y="0" font-size="26" text-anchor="end" letter-spacing="-0.6">0.6</text></g>
<g transform="translate(0 309.97)"><text transform="translate(38.05 0.00) scale(1.430 1)" font-size="26">−</text><text x="88.4" y="0" font-size="26" text-anchor="end" letter-spacing="-0.6">0.3</text></g>
<text x="88.4" y="254.38" font-size="26" text-anchor="end" letter-spacing="-0.6">0</text>
<text x="88.4" y="198.80" font-size="26" text-anchor="end" letter-spacing="-0.6">0.3</text>
<text x="88.4" y="143.22" font-size="26" text-anchor="end" letter-spacing="-0.6">0.6</text>
<text x="88.4" y="87.63" font-size="26" text-anchor="end" letter-spacing="-0.6">0.9</text>
<text x="88.4" y="31.10" font-size="26" text-anchor="end" letter-spacing="-0.6">1.2</text>
<text x="701.90" y="385.6" font-size="26" text-anchor="middle" letter-spacing="-0.6">0</text>
<text x="765.10" y="385.6" font-size="26" text-anchor="middle" letter-spacing="-0.6">0.5</text>
<text x="828.30" y="385.6" font-size="26" text-anchor="middle" letter-spacing="-0.6">1.0</text>
<text x="891.50" y="385.6" font-size="26" text-anchor="middle" letter-spacing="-0.6">1.5</text>
<text x="954.70" y="385.6" font-size="26" text-anchor="middle" letter-spacing="-0.6">2.0</text>
<text x="1017.90" y="385.6" font-size="26" text-anchor="middle" letter-spacing="-0.6">2.5</text>
<text x="1081.10" y="385.6" font-size="26" text-anchor="middle" letter-spacing="-0.6">3.0</text>
<text x="1144.30" y="385.6" font-size="26" text-anchor="middle" letter-spacing="-0.6">3.5</text>
<g transform="translate(0 30.90)"><text x="644.31" y="0.00" font-size="26">10</text><text transform="translate(669.32 -8.10) scale(1.270 1)" font-size="17">−</text><text x="680.11" y="-9.70" font-size="17">1</text></g>
<g transform="translate(0 78.79)"><text x="644.31" y="0.00" font-size="26">10</text><text transform="translate(669.32 -8.10) scale(1.270 1)" font-size="17">−</text><text x="680.85" y="-9.70" font-size="17">2</text></g>
<g transform="translate(0 126.44)"><text x="644.31" y="0.00" font-size="26">10</text><text transform="translate(669.32 -8.10) scale(1.270 1)" font-size="17">−</text><text x="680.79" y="-9.70" font-size="17">3</text></g>
<g transform="translate(0 174.08)"><text x="644.31" y="0.00" font-size="26">10</text><text transform="translate(669.32 -8.10) scale(1.270 1)" font-size="17">−</text><text x="681.27" y="-9.70" font-size="17">4</text></g>
<g transform="translate(0 221.72)"><text x="644.31" y="0.00" font-size="26">10</text><text transform="translate(669.32 -8.10) scale(1.270 1)" font-size="17">−</text><text x="680.61" y="-9.70" font-size="17">5</text></g>
<g transform="translate(0 269.36)"><text x="644.31" y="0.00" font-size="26">10</text><text transform="translate(669.32 -8.10) scale(1.270 1)" font-size="17">−</text><text x="680.87" y="-9.70" font-size="17">6</text></g>
<g transform="translate(0 317.01)"><text x="644.31" y="0.00" font-size="26">10</text><text transform="translate(669.32 -8.10) scale(1.270 1)" font-size="17">−</text><text x="680.48" y="-9.70" font-size="17">7</text></g>
<g transform="translate(0 364.40)"><text x="644.31" y="0.00" font-size="26">10</text><text transform="translate(669.32 -8.10) scale(1.270 1)" font-size="17">−</text><text x="680.95" y="-9.70" font-size="17">8</text></g>
<g transform="translate(0 424.1)"><text x="278.93" y="0.00" font-size="29" font-style="italic">t</text><text x="287.54" y="0.00" font-size="29" font-style="italic">a</text><text x="302.13" y="6.60" font-size="28.5">∞</text><text x="323.60" y="5.70" font-size="38">/</text><text x="337.14" y="0.00" font-size="29" font-style="italic">L</text><text x="352.98" y="4.40" font-size="20" font-style="italic">c</text></g>
<g transform="translate(0 423.9)"><text x="900.06" y="0.00" font-size="29" font-style="italic">S</text><text x="912.33" y="0.00" font-size="29" font-style="italic">t</text><text x="922.93" y="4.40" font-size="20" font-style="italic">LE</text></g>
<g transform="translate(25.4 270.7) rotate(-90)"><text x="1.70" y="0.00" font-size="29" font-style="italic">p</text><text x="17.40" y="4.40" font-size="20" font-style="italic">a</text><text x="26.80" y="4.70" font-size="37">/</text><text x="39.19" y="0.00" font-size="29">max</text><text x="90.02" y="-1.50" font-size="29">|</text><text x="97.00" y="0.00" font-size="29" font-style="italic">p</text><text x="111.90" y="4.40" font-size="20" font-style="italic">a</text><text x="124.82" y="-1.50" font-size="29">|</text><text x="130.17" y="4.40" font-size="20" font-style="italic">SLE</text></g>
<g transform="translate(623.0 279.9) rotate(-90)"><text x="-0.34" y="0.00" font-size="29" font-style="italic">S</text><text x="17.77" y="4.40" font-size="20" font-style="italic">ppa</text><text x="44.90" y="4.70" font-size="37">/</text><text x="57.29" y="0.00" font-size="29">max</text><text x="108.12" y="-1.50" font-size="29">|</text><text x="115.10" y="0.00" font-size="29" font-style="italic">p</text><text x="130.00" y="4.40" font-size="20" font-style="italic">a</text><text x="142.92" y="-1.50" font-size="29">|</text><text x="150.07" y="3.50" font-size="20" font-style="italic">SLE</text><text x="149.15" y="-15.80" font-size="17">2</text></g>
</g>
</svg>
</body></html>
